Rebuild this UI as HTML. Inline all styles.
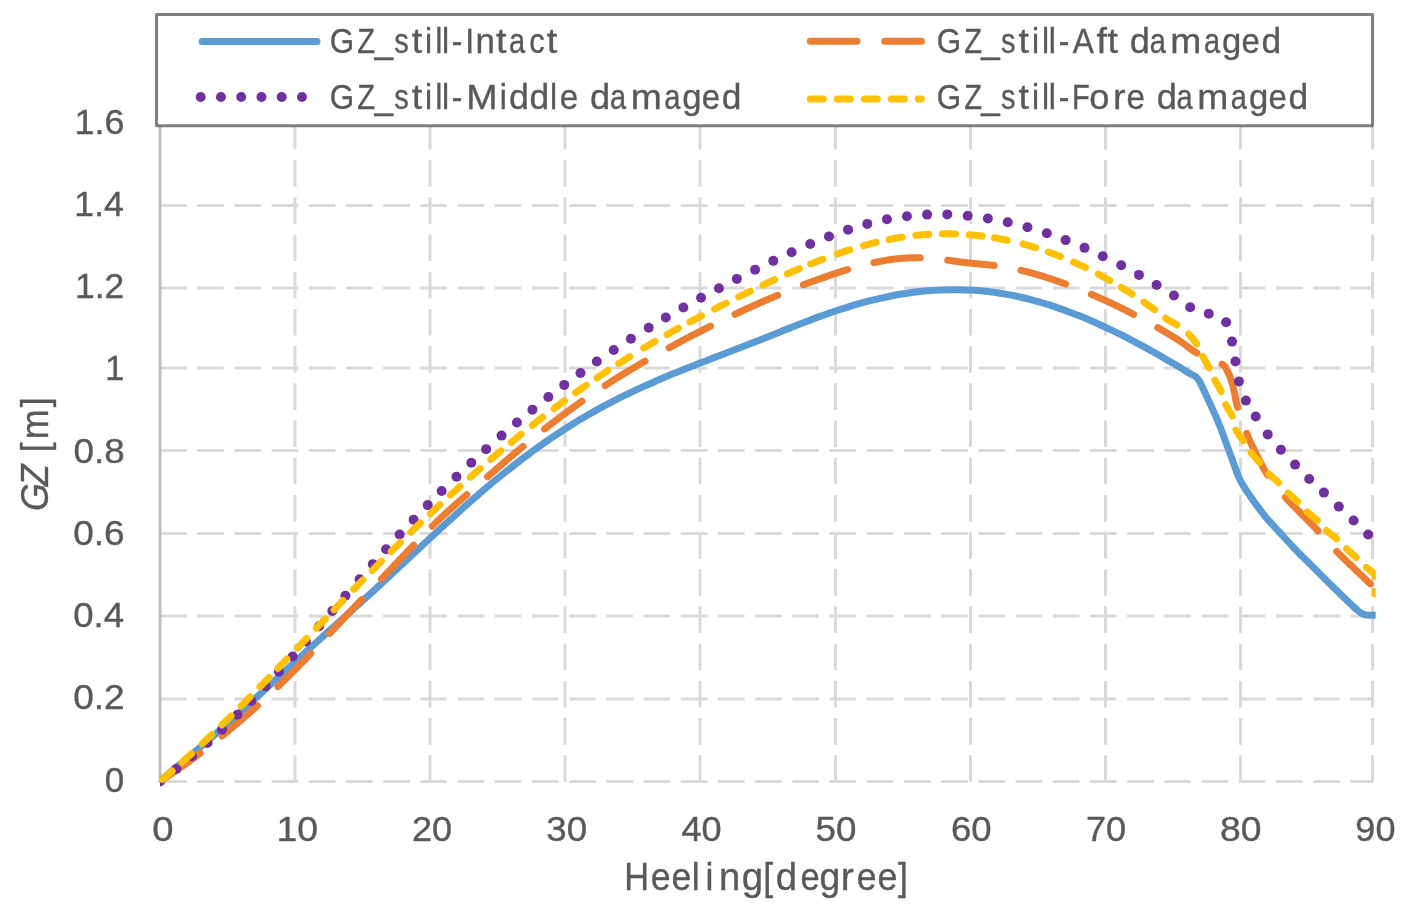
<!DOCTYPE html>
<html><head><meta charset="utf-8"><style>
html,body{margin:0;padding:0;background:#fff;width:1410px;height:916px;overflow:hidden}
svg{display:block;filter:blur(0.4px)}
text{font-family:"Liberation Sans",sans-serif;fill:#595959;stroke:#595959;stroke-width:0.35px}
</style></head><body>
<svg width="1410" height="916" viewBox="0 0 1410 916">
<defs><clipPath id="pc"><rect x="160" y="0" width="1215.7" height="800"/></clipPath></defs>
<rect width="1410" height="916" fill="#fff"/>
<g stroke="#d9d9d9" stroke-width="3" stroke-dasharray="26.6 10.6" fill="none">
<line x1="160" y1="781.4" x2="1372.5" y2="781.4" />
<line x1="160" y1="699.05" x2="1372.5" y2="699.05" />
<line x1="160" y1="616.05" x2="1372.5" y2="616.05" />
<line x1="160" y1="533.4" x2="1372.5" y2="533.4" />
<line x1="160" y1="450.4" x2="1372.5" y2="450.4" />
<line x1="160" y1="368.0" x2="1372.5" y2="368.0" />
<line x1="160" y1="288.0" x2="1372.5" y2="288.0" />
<line x1="160" y1="205.4" x2="1372.5" y2="205.4" />
<line x1="160" y1="123.2" x2="1372.5" y2="123.2" />
</g>
<g stroke="#d9d9d9" stroke-width="3" stroke-dasharray="26.6 10.6" fill="none">
<line x1="295" y1="122.9" x2="295" y2="782.9" />
<line x1="430" y1="122.9" x2="430" y2="782.9" />
<line x1="565" y1="122.9" x2="565" y2="782.9" />
<line x1="700" y1="122.9" x2="700" y2="782.9" />
<line x1="835.5" y1="122.9" x2="835.5" y2="782.9" />
<line x1="970.5" y1="122.9" x2="970.5" y2="782.9" />
<line x1="1105.5" y1="122.9" x2="1105.5" y2="782.9" />
<line x1="1240.5" y1="122.9" x2="1240.5" y2="782.9" />
<line x1="1372.5" y1="122.9" x2="1372.5" y2="782.9" />
</g>
<line x1="160" y1="122.9" x2="160" y2="782.9" stroke="#bfbfbf" stroke-width="3"/>
<g clip-path="url(#pc)" fill="none" stroke-linejoin="round">
<path d="M160.00,780.90 C161.67,779.50 166.67,775.30 170.00,772.50 C173.33,769.70 176.67,766.88 180.00,764.10 C183.33,761.32 186.67,758.60 190.00,755.80 C193.33,753.00 196.67,750.13 200.00,747.30 C203.33,744.47 206.67,741.65 210.00,738.80 C213.33,735.95 216.67,733.10 220.00,730.20 C223.33,727.30 226.67,724.37 230.00,721.40 C233.33,718.43 236.67,715.42 240.00,712.40 C243.33,709.38 246.67,706.33 250.00,703.30 C253.33,700.27 256.67,697.25 260.00,694.20 C263.33,691.15 266.67,688.07 270.00,685.00 C273.33,681.93 276.67,678.88 280.00,675.80 C283.33,672.72 286.67,669.58 290.00,666.50 C293.33,663.42 296.67,660.35 300.00,657.30 C303.33,654.25 306.67,651.23 310.00,648.20 C313.33,645.17 316.67,642.12 320.00,639.10 C323.33,636.08 326.67,633.10 330.00,630.10 C333.33,627.10 336.67,624.10 340.00,621.10 C343.33,618.10 346.67,615.10 350.00,612.10 C353.33,609.10 356.67,606.12 360.00,603.10 C363.33,600.08 366.67,597.03 370.00,594.00 C373.33,590.97 376.67,587.97 380.00,584.90 C383.33,581.83 386.67,578.70 390.00,575.60 C393.33,572.50 396.67,569.40 400.00,566.30 C403.33,563.20 406.67,560.12 410.00,557.00 C413.33,553.88 416.67,550.72 420.00,547.60 C423.33,544.48 426.67,541.40 430.00,538.30 C433.33,535.20 436.67,532.08 440.00,529.00 C443.33,525.92 446.67,522.83 450.00,519.80 C453.33,516.77 456.67,513.78 460.00,510.80 C463.33,507.82 466.67,504.85 470.00,501.90 C473.33,498.95 476.67,495.98 480.00,493.10 C483.33,490.22 486.67,487.38 490.00,484.60 C493.33,481.82 496.67,479.10 500.00,476.40 C503.33,473.70 506.67,471.03 510.00,468.40 C513.33,465.77 516.67,463.15 520.00,460.60 C523.33,458.05 526.67,455.55 530.00,453.10 C533.33,450.65 536.67,448.27 540.00,445.90 C543.33,443.53 546.67,441.18 550.00,438.90 C553.33,436.62 556.67,434.38 560.00,432.20 C563.33,430.02 566.67,427.90 570.00,425.80 C573.33,423.70 576.67,421.62 580.00,419.60 C583.33,417.58 586.67,415.62 590.00,413.70 C593.33,411.78 596.67,409.92 600.00,408.10 C603.33,406.28 606.67,404.53 610.00,402.80 C613.33,401.07 616.67,399.37 620.00,397.70 C623.33,396.03 626.67,394.40 630.00,392.80 C633.33,391.20 636.67,389.62 640.00,388.10 C643.33,386.58 646.67,385.17 650.00,383.70 C653.33,382.23 656.67,380.73 660.00,379.30 C663.33,377.87 666.67,376.47 670.00,375.10 C673.33,373.73 676.67,372.43 680.00,371.10 C683.33,369.77 686.67,368.43 690.00,367.10 C693.33,365.77 696.67,364.40 700.00,363.10 C703.33,361.80 706.67,360.58 710.00,359.30 C713.33,358.02 716.67,356.68 720.00,355.40 C723.33,354.12 726.67,352.88 730.00,351.60 C733.33,350.32 736.67,349.00 740.00,347.70 C743.33,346.40 746.67,345.10 750.00,343.80 C753.33,342.50 756.67,341.22 760.00,339.90 C763.33,338.58 766.67,337.23 770.00,335.90 C773.33,334.57 776.67,333.23 780.00,331.90 C783.33,330.57 786.67,329.22 790.00,327.90 C793.33,326.58 796.67,325.28 800.00,324.00 C803.33,322.72 806.67,321.47 810.00,320.20 C813.33,318.93 816.67,317.62 820.00,316.40 C823.33,315.18 826.67,314.05 830.00,312.90 C833.33,311.75 836.67,310.60 840.00,309.50 C843.33,308.40 846.67,307.32 850.00,306.30 C853.33,305.28 856.67,304.33 860.00,303.40 C863.33,302.47 866.67,301.55 870.00,300.70 C873.33,299.85 876.67,299.05 880.00,298.30 C883.33,297.55 886.67,296.87 890.00,296.20 C893.33,295.53 896.67,294.87 900.00,294.30 C903.33,293.73 906.67,293.27 910.00,292.80 C913.33,292.33 916.67,291.87 920.00,291.50 C923.33,291.13 926.67,290.85 930.00,290.60 C933.33,290.35 936.67,290.15 940.00,290.00 C943.33,289.85 946.67,289.75 950.00,289.70 C953.33,289.65 956.67,289.63 960.00,289.70 C963.33,289.77 966.67,289.92 970.00,290.10 C973.33,290.28 976.67,290.52 980.00,290.80 C983.33,291.08 986.67,291.40 990.00,291.80 C993.33,292.20 996.67,292.68 1000.00,293.20 C1003.33,293.72 1006.67,294.27 1010.00,294.90 C1013.33,295.53 1016.67,296.25 1020.00,297.00 C1023.33,297.75 1026.67,298.53 1030.00,299.40 C1033.33,300.27 1036.67,301.23 1040.00,302.20 C1043.33,303.17 1046.67,304.13 1050.00,305.20 C1053.33,306.27 1056.67,307.43 1060.00,308.60 C1063.33,309.77 1066.67,310.95 1070.00,312.20 C1073.33,313.45 1076.67,314.75 1080.00,316.10 C1083.33,317.45 1086.67,318.87 1090.00,320.30 C1093.33,321.73 1096.67,323.18 1100.00,324.70 C1103.33,326.22 1106.67,327.82 1110.00,329.40 C1113.33,330.98 1116.67,332.55 1120.00,334.20 C1123.33,335.85 1126.67,337.57 1130.00,339.30 C1133.33,341.03 1136.67,342.80 1140.00,344.60 C1143.33,346.40 1146.67,348.25 1150.00,350.10 C1153.33,351.95 1156.67,353.78 1160.00,355.70 C1163.33,357.62 1166.67,359.63 1170.00,361.60 C1173.33,363.57 1176.73,365.53 1180.00,367.50 C1183.27,369.47 1187.02,371.90 1189.60,373.40 C1192.18,374.90 1193.85,375.17 1195.50,376.50 C1197.15,377.83 1198.18,379.27 1199.50,381.40 C1200.82,383.53 1201.77,385.85 1203.40,389.30 C1205.03,392.75 1207.33,397.82 1209.30,402.10 C1211.27,406.38 1213.42,410.93 1215.20,415.00 C1216.98,419.07 1218.45,422.58 1220.00,426.50 C1221.55,430.42 1222.42,432.87 1224.50,438.50 C1226.58,444.13 1230.28,454.22 1232.50,460.30 C1234.72,466.38 1236.47,471.62 1237.80,475.00 C1239.13,478.38 1239.50,478.67 1240.50,480.60 C1241.50,482.53 1242.47,484.40 1243.80,486.60 C1245.13,488.80 1246.72,491.18 1248.50,493.80 C1250.28,496.42 1251.75,498.57 1254.50,502.30 C1257.25,506.03 1261.42,511.83 1265.00,516.20 C1268.58,520.57 1272.33,524.45 1276.00,528.50 C1279.67,532.55 1283.83,537.08 1287.00,540.50 C1290.17,543.92 1292.83,546.72 1295.00,549.00 C1297.17,551.28 1297.50,551.68 1300.00,554.20 C1302.50,556.72 1306.67,560.80 1310.00,564.10 C1313.33,567.40 1316.67,570.70 1320.00,574.00 C1323.33,577.30 1326.67,580.62 1330.00,583.90 C1333.33,587.18 1337.00,590.78 1340.00,593.70 C1343.00,596.62 1345.83,599.32 1348.00,601.40 C1350.17,603.48 1351.50,604.78 1353.00,606.20 C1354.50,607.62 1355.67,608.78 1357.00,609.90 C1358.33,611.02 1359.67,612.12 1361.00,612.90 C1362.33,613.68 1363.67,614.22 1365.00,614.60 C1366.33,614.98 1366.50,615.10 1369.00,615.20 C1371.50,615.30 1378.17,615.20 1380.00,615.20" stroke="#5b9bd5" stroke-width="7" stroke-linecap="round"/>
<path d="M162.10,780.00 L162.26,779.89 L162.51,779.73 L162.76,779.56 L163.02,779.39 L163.28,779.21 L163.55,779.03 L163.82,778.85 L164.10,778.67 L164.38,778.48 L164.66,778.29 L164.94,778.10 L165.23,777.91 L165.52,777.72 L165.81,777.52 L166.10,777.33 L166.39,777.13 L166.69,776.94 L166.98,776.74 L167.27,776.55 L167.55,776.35 L167.84,776.16 L168.12,775.97 L168.40,775.78 L168.68,775.59 L168.96,775.41 L169.22,775.23 L169.49,775.05 L169.75,774.87 L170.00,774.70 L170.25,774.53 L170.50,774.36 L170.75,774.19 L171.00,774.02 L171.25,773.85 L171.50,773.68 L171.75,773.51 L172.00,773.34 L172.25,773.16 L172.50,772.99 L172.75,772.82 L173.00,772.65 L173.25,772.48 L173.50,772.31 L173.75,772.14 L174.00,771.96 L174.25,771.79 L174.50,771.62 L174.75,771.45 L175.00,771.27 L175.25,771.10 L175.50,770.93 L175.75,770.76 L176.00,770.58 L176.25,770.41 L176.50,770.24 L176.75,770.06 L177.00,769.89 L177.25,769.72 L177.50,769.54 L177.75,769.37 L178.00,769.20 L178.25,769.02 L178.50,768.85 L178.75,768.67 L179.00,768.50 L179.25,768.32 L179.50,768.15 L179.75,767.97 L180.00,767.80 L180.25,767.62 L180.50,767.45 L180.75,767.27 L181.00,767.10 L181.25,766.92 L181.50,766.75 L181.75,766.57 L182.00,766.40 L182.25,766.22 L182.50,766.05 L182.75,765.87 L183.00,765.70 L183.25,765.52 L183.50,765.35 L183.75,765.17 L184.00,764.99 L184.25,764.82 L184.50,764.64 L184.75,764.46 L185.00,764.29 L185.25,764.11 L185.50,763.93 L185.75,763.76 L186.00,763.58 L186.25,763.40 L186.50,763.22 L186.75,763.04 L187.00,762.87 L187.25,762.69 L187.50,762.51 L187.75,762.33 L188.00,762.15 L188.25,761.97 L188.50,761.79 L188.75,761.61 L189.00,761.43 L189.25,761.25 L189.50,761.06 L189.75,760.88 L190.00,760.70 L190.25,760.52 L190.50,760.33 L190.75,760.15 L191.00,759.97 L191.25,759.78 L191.50,759.60 L191.75,759.41 L192.00,759.23 L192.25,759.04 L192.50,758.86 L192.75,758.67 L193.00,758.48 L193.25,758.30 L193.50,758.11 L193.75,757.92 L194.00,757.73 L194.25,757.55 L194.50,757.36 L194.75,757.17 L195.00,756.98 L195.25,756.79 L195.50,756.60 L195.75,756.42 L196.00,756.23 L196.25,756.04 L196.50,755.85 L196.75,755.66 L197.00,755.47 L197.25,755.28 L197.50,755.09 L197.75,754.90 L198.00,754.71 L198.25,754.52 L198.50,754.33 L198.75,754.15 L199.00,753.96 L199.25,753.77 L199.50,753.58 L199.75,753.39 L200.00,753.20 L200.21,753.04 M221.92,736.04 L222.00,735.98 L222.25,735.77 L222.50,735.57 L222.75,735.36 L223.00,735.16 L223.25,734.96 L223.50,734.75 L223.75,734.55 L224.00,734.34 L224.25,734.14 L224.50,733.93 L224.75,733.73 L225.00,733.52 L225.25,733.32 L225.50,733.11 L225.75,732.91 L226.00,732.70 L226.25,732.50 L226.50,732.29 L226.75,732.09 L227.00,731.88 L227.25,731.67 L227.50,731.47 L227.75,731.26 L228.00,731.06 L228.25,730.85 L228.50,730.64 L228.75,730.44 L229.00,730.23 L229.25,730.02 L229.50,729.81 L229.75,729.61 L230.00,729.40 L230.25,729.19 L230.50,728.98 L230.75,728.78 L231.00,728.57 L231.25,728.36 L231.50,728.15 L231.75,727.95 L232.00,727.74 L232.25,727.53 L232.50,727.32 L232.75,727.11 L233.00,726.90 L233.25,726.70 L233.50,726.49 L233.75,726.28 L234.00,726.07 L234.25,725.86 L234.50,725.65 L234.75,725.44 L235.00,725.23 L235.25,725.02 L235.50,724.81 L235.75,724.60 L236.00,724.39 L236.25,724.18 L236.50,723.97 L236.75,723.76 L237.00,723.55 L237.25,723.34 L237.50,723.13 L237.75,722.91 L238.00,722.70 L238.25,722.49 L238.50,722.28 L238.75,722.07 L239.00,721.85 L239.25,721.64 L239.50,721.43 L239.75,721.21 L240.00,721.00 L240.25,720.79 L240.50,720.57 L240.75,720.36 L241.00,720.14 L241.25,719.93 L241.50,719.71 L241.75,719.50 L242.00,719.28 L242.25,719.07 L242.50,718.85 L242.75,718.64 L243.00,718.42 L243.25,718.21 L243.50,717.99 L243.75,717.77 L244.00,717.56 L244.25,717.34 L244.50,717.12 L244.75,716.90 L245.00,716.69 L245.25,716.47 L245.50,716.25 L245.75,716.03 L246.00,715.82 L246.25,715.60 L246.50,715.38 L246.75,715.16 L247.00,714.94 L247.25,714.72 L247.50,714.50 L247.75,714.28 L248.00,714.06 L248.25,713.84 L248.50,713.62 L248.75,713.40 L249.00,713.18 L249.25,712.96 L249.50,712.74 L249.75,712.52 L250.00,712.30 L250.25,712.08 L250.50,711.86 L250.75,711.64 L251.00,711.41 L251.25,711.19 L251.50,710.97 L251.75,710.75 L252.00,710.52 L252.25,710.30 L252.50,710.08 L252.75,709.85 L253.00,709.63 L253.25,709.41 L253.50,709.18 L253.75,708.96 L254.00,708.74 L254.25,708.51 L254.50,708.29 L254.75,708.06 L255.00,707.84 L255.25,707.61 L255.50,707.39 L255.75,707.16 L256.00,706.94 L256.25,706.71 L256.50,706.48 L256.75,706.26 L257.00,706.03 L257.25,705.80 L257.39,705.68 M277.85,686.57 L278.00,686.42 L278.25,686.18 L278.50,685.94 L278.75,685.70 L279.00,685.46 L279.25,685.22 L279.50,684.98 L279.75,684.74 L280.00,684.50 L280.25,684.26 L280.50,684.02 L280.75,683.78 L281.00,683.53 L281.25,683.29 L281.50,683.05 L281.75,682.81 L282.00,682.56 L282.25,682.32 L282.50,682.08 L282.75,681.83 L283.00,681.59 L283.25,681.34 L283.50,681.10 L283.75,680.86 L284.00,680.61 L284.25,680.37 L284.50,680.12 L284.75,679.88 L285.00,679.63 L285.25,679.39 L285.50,679.14 L285.75,678.89 L286.00,678.65 L286.25,678.40 L286.50,678.16 L286.75,677.91 L287.00,677.66 L287.25,677.42 L287.50,677.17 L287.75,676.92 L288.00,676.68 L288.25,676.43 L288.50,676.18 L288.75,675.94 L289.00,675.69 L289.25,675.44 L289.50,675.19 L289.75,674.95 L290.00,674.70 L290.25,674.45 L290.50,674.20 L290.75,673.96 L291.00,673.71 L291.25,673.46 L291.50,673.21 L291.75,672.97 L292.00,672.72 L292.25,672.47 L292.50,672.22 L292.75,671.98 L293.00,671.73 L293.25,671.48 L293.50,671.23 L293.75,670.98 L294.00,670.73 L294.25,670.48 L294.50,670.24 L294.75,669.99 L295.00,669.74 L295.25,669.49 L295.50,669.24 L295.75,668.99 L296.00,668.74 L296.25,668.49 L296.50,668.24 L296.75,667.99 L297.00,667.74 L297.25,667.48 L297.50,667.23 L297.75,666.98 L298.00,666.73 L298.25,666.48 L298.50,666.22 L298.75,665.97 L299.00,665.72 L299.25,665.46 L299.50,665.21 L299.75,664.95 L300.00,664.70 L300.25,664.44 L300.50,664.19 L300.75,663.93 L301.00,663.68 L301.25,663.42 L301.50,663.16 L301.75,662.91 L302.00,662.65 L302.25,662.39 L302.50,662.13 L302.75,661.87 L303.00,661.61 L303.25,661.35 L303.50,661.09 L303.75,660.83 L304.00,660.57 L304.25,660.31 L304.50,660.05 L304.75,659.79 L305.00,659.53 L305.25,659.27 L305.50,659.01 L305.75,658.75 L306.00,658.49 L306.25,658.22 L306.50,657.96 L306.75,657.70 L307.00,657.44 L307.25,657.18 L307.50,656.92 L307.75,656.65 L308.00,656.39 L308.25,656.13 L308.50,655.87 L308.75,655.61 L309.00,655.35 L309.25,655.08 L309.50,654.82 L309.75,654.56 L310.00,654.30 L310.25,654.04 L310.50,653.78 L310.75,653.52 L310.79,653.47 M329.49,633.65 L329.50,633.64 L329.75,633.37 L330.00,633.10 L330.25,632.83 L330.50,632.56 L330.75,632.30 L331.00,632.03 L331.25,631.76 L331.50,631.49 L331.75,631.23 L332.00,630.96 L332.25,630.69 L332.50,630.42 L332.75,630.15 L333.00,629.89 L333.25,629.62 L333.50,629.35 L333.75,629.08 L334.00,628.82 L334.25,628.55 L334.50,628.28 L334.75,628.01 L335.00,627.74 L335.25,627.48 L335.50,627.21 L335.75,626.94 L336.00,626.67 L336.25,626.41 L336.50,626.14 L336.75,625.87 L337.00,625.60 L337.25,625.34 L337.50,625.07 L337.75,624.80 L338.00,624.53 L338.25,624.27 L338.50,624.00 L338.75,623.73 L339.00,623.47 L339.25,623.20 L339.50,622.93 L339.75,622.67 L340.00,622.40 L340.25,622.13 L340.50,621.87 L340.75,621.60 L341.00,621.34 L341.25,621.07 L341.50,620.80 L341.75,620.54 L342.00,620.27 L342.25,620.01 L342.50,619.74 L342.75,619.48 L343.00,619.21 L343.25,618.95 L343.50,618.68 L343.75,618.42 L344.00,618.15 L344.25,617.89 L344.50,617.62 L344.75,617.36 L345.00,617.09 L345.25,616.83 L345.50,616.56 L345.75,616.30 L346.00,616.04 L346.25,615.77 L346.50,615.51 L346.75,615.24 L347.00,614.98 L347.25,614.71 L347.50,614.45 L347.75,614.18 L348.00,613.92 L348.25,613.65 L348.50,613.39 L348.75,613.12 L349.00,612.86 L349.25,612.59 L349.50,612.33 L349.75,612.06 L350.00,611.80 L350.25,611.53 L350.50,611.27 L350.75,611.00 L351.00,610.74 L351.25,610.47 L351.50,610.21 L351.75,609.94 L352.00,609.68 L352.25,609.41 L352.50,609.14 L352.75,608.88 L353.00,608.61 L353.25,608.34 L353.50,608.08 L353.75,607.81 L354.00,607.55 L354.25,607.28 L354.50,607.01 L354.75,606.75 L355.00,606.48 L355.25,606.22 L355.50,605.95 L355.75,605.68 L356.00,605.42 L356.25,605.15 L356.50,604.89 L356.75,604.62 L357.00,604.36 L357.25,604.09 L357.50,603.83 L357.75,603.56 L358.00,603.30 L358.25,603.04 L358.50,602.77 L358.75,602.51 L359.00,602.25 L359.25,601.99 L359.50,601.72 L359.75,601.46 L360.00,601.20 L360.25,600.94 L360.50,600.68 L360.75,600.42 L361.00,600.16 L361.25,599.90 L361.50,599.64 M381.40,579.04 L381.50,578.93 L381.75,578.67 L382.00,578.41 L382.25,578.15 L382.50,577.88 L382.75,577.62 L383.00,577.36 L383.25,577.10 L383.50,576.84 L383.75,576.57 L384.00,576.31 L384.25,576.05 L384.50,575.79 L384.75,575.52 L385.00,575.26 L385.25,575.00 L385.50,574.74 L385.75,574.47 L386.00,574.21 L386.25,573.95 L386.50,573.69 L386.75,573.42 L387.00,573.16 L387.25,572.90 L387.50,572.63 L387.75,572.37 L388.00,572.11 L388.25,571.84 L388.50,571.58 L388.75,571.32 L389.00,571.05 L389.25,570.79 L389.50,570.53 L389.75,570.26 L390.00,570.00 L390.25,569.74 L390.50,569.47 L390.75,569.21 L391.00,568.94 L391.25,568.68 L391.50,568.41 L391.75,568.15 L392.00,567.88 L392.25,567.62 L392.50,567.35 L392.75,567.09 L393.00,566.82 L393.25,566.56 L393.50,566.29 L393.75,566.03 L394.00,565.76 L394.25,565.50 L394.50,565.23 L394.75,564.97 L395.00,564.70 L395.25,564.43 L395.50,564.17 L395.75,563.90 L396.00,563.64 L396.25,563.37 L396.50,563.11 L396.75,562.84 L397.00,562.58 L397.25,562.31 L397.50,562.05 L397.75,561.78 L398.00,561.52 L398.25,561.25 L398.50,560.99 L398.75,560.72 L399.00,560.46 L399.25,560.19 L399.50,559.93 L399.75,559.66 L400.00,559.40 L400.25,559.14 L400.50,558.87 L400.75,558.61 L401.00,558.35 L401.25,558.08 L401.50,557.82 L401.75,557.56 L402.00,557.29 L402.25,557.03 L402.50,556.77 L402.75,556.50 L403.00,556.24 L403.25,555.98 L403.50,555.71 L403.75,555.45 L404.00,555.19 L404.25,554.93 L404.50,554.66 L404.75,554.40 L405.00,554.14 L405.25,553.88 L405.50,553.61 L405.75,553.35 L406.00,553.09 L406.25,552.83 L406.50,552.56 L406.75,552.30 L407.00,552.04 L407.25,551.78 L407.50,551.52 L407.75,551.25 L408.00,550.99 L408.25,550.73 L408.50,550.47 L408.75,550.21 L409.00,549.95 L409.25,549.68 L409.50,549.42 L409.75,549.16 L410.00,548.90 L410.25,548.64 L410.50,548.38 L410.75,548.12 L411.00,547.85 L411.25,547.59 L411.50,547.33 L411.75,547.07 L412.00,546.81 L412.25,546.55 L412.50,546.29 L412.75,546.02 L413.00,545.76 L413.25,545.50 L413.50,545.24 L413.56,545.18 M432.24,526.19 L432.25,526.18 L432.50,525.94 L432.75,525.69 L433.00,525.44 L433.25,525.20 L433.50,524.96 L433.75,524.71 L434.00,524.47 L434.25,524.22 L434.50,523.98 L434.75,523.74 L435.00,523.49 L435.25,523.25 L435.50,523.01 L435.75,522.77 L436.00,522.52 L436.25,522.28 L436.50,522.04 L436.75,521.80 L437.00,521.56 L437.25,521.32 L437.50,521.08 L437.75,520.84 L438.00,520.60 L438.25,520.36 L438.50,520.12 L438.75,519.89 L439.00,519.65 L439.25,519.41 L439.50,519.17 L439.75,518.94 L440.00,518.70 L440.25,518.46 L440.50,518.23 L440.75,517.99 L441.00,517.76 L441.25,517.52 L441.50,517.29 L441.75,517.06 L442.00,516.82 L442.25,516.59 L442.50,516.36 L442.75,516.13 L443.00,515.89 L443.25,515.66 L443.50,515.43 L443.75,515.20 L444.00,514.97 L444.25,514.74 L444.50,514.51 L444.75,514.28 L445.00,514.05 L445.25,513.82 L445.50,513.59 L445.75,513.36 L446.00,513.13 L446.25,512.91 L446.50,512.68 L446.75,512.45 L447.00,512.22 L447.25,511.99 L447.50,511.77 L447.75,511.54 L448.00,511.31 L448.25,511.09 L448.50,510.86 L448.75,510.63 L449.00,510.41 L449.25,510.18 L449.50,509.95 L449.75,509.73 L450.00,509.50 L450.25,509.27 L450.50,509.05 L450.75,508.82 L451.00,508.60 L451.25,508.37 L451.50,508.15 L451.75,507.92 L452.00,507.70 L452.25,507.47 L452.50,507.25 L452.75,507.02 L453.00,506.80 L453.25,506.57 L453.50,506.35 L453.75,506.13 L454.00,505.90 L454.25,505.68 L454.50,505.46 L454.75,505.24 L455.00,505.01 L455.25,504.79 L455.50,504.57 L455.75,504.35 L456.00,504.12 L456.25,503.90 L456.50,503.68 L456.75,503.46 L457.00,503.24 L457.25,503.02 L457.50,502.80 L457.75,502.58 L458.00,502.36 L458.25,502.14 L458.50,501.92 L458.75,501.70 L459.00,501.48 L459.25,501.26 L459.50,501.04 L459.75,500.82 L460.00,500.60 L460.25,500.38 L460.50,500.16 L460.75,499.95 L461.00,499.73 L461.25,499.51 L461.50,499.29 L461.75,499.08 L462.00,498.86 L462.25,498.65 L462.50,498.43 L462.75,498.22 L463.00,498.00 L463.25,497.79 L463.50,497.57 L463.75,497.36 L464.00,497.14 L464.25,496.93 L464.50,496.72 L464.75,496.50 L465.00,496.29 L465.25,496.07 L465.50,495.86 L465.75,495.65 L466.00,495.43 L466.25,495.22 L466.50,495.01 L466.75,494.79 L466.77,494.77 M487.56,476.72 L487.75,476.56 L488.00,476.34 L488.25,476.12 L488.50,475.90 L488.75,475.69 L489.00,475.47 L489.25,475.25 L489.50,475.04 L489.75,474.82 L490.00,474.60 L490.25,474.38 L490.50,474.16 L490.75,473.95 L491.00,473.73 L491.25,473.51 L491.50,473.29 L491.75,473.08 L492.00,472.86 L492.25,472.64 L492.50,472.42 L492.75,472.20 L493.00,471.99 L493.25,471.77 L493.50,471.55 L493.75,471.33 L494.00,471.12 L494.25,470.90 L494.50,470.68 L494.75,470.46 L495.00,470.24 L495.25,470.03 L495.50,469.81 L495.75,469.59 L496.00,469.37 L496.25,469.16 L496.50,468.94 L496.75,468.72 L497.00,468.50 L497.25,468.29 L497.50,468.07 L497.75,467.85 L498.00,467.63 L498.25,467.42 L498.50,467.20 L498.75,466.98 L499.00,466.77 L499.25,466.55 L499.50,466.33 L499.75,466.12 L500.00,465.90 L500.25,465.68 L500.50,465.47 L500.75,465.25 L501.00,465.04 L501.25,464.82 L501.50,464.60 L501.75,464.39 L502.00,464.17 L502.25,463.95 L502.50,463.74 L502.75,463.52 L503.00,463.31 L503.25,463.09 L503.50,462.87 L503.75,462.66 L504.00,462.44 L504.25,462.23 L504.50,462.01 L504.75,461.80 L505.00,461.58 L505.25,461.37 L505.50,461.15 L505.75,460.94 L506.00,460.72 L506.25,460.51 L506.50,460.29 L506.75,460.08 L507.00,459.86 L507.25,459.65 L507.50,459.43 L507.75,459.22 L508.00,459.01 L508.25,458.79 L508.50,458.58 L508.75,458.36 L509.00,458.15 L509.25,457.94 L509.50,457.73 L509.75,457.51 L510.00,457.30 L510.25,457.09 L510.50,456.88 L510.75,456.66 L511.00,456.45 L511.25,456.24 L511.50,456.03 L511.75,455.82 L512.00,455.61 L512.25,455.39 L512.50,455.18 L512.75,454.97 L513.00,454.76 L513.25,454.55 L513.50,454.34 L513.75,454.13 L514.00,453.92 L514.25,453.71 L514.50,453.50 L514.75,453.29 L515.00,453.08 L515.25,452.87 L515.50,452.66 L515.75,452.45 L516.00,452.24 L516.25,452.03 L516.50,451.82 L516.75,451.62 L517.00,451.41 L517.25,451.20 L517.50,450.99 L517.75,450.78 L518.00,450.57 L518.25,450.36 L518.50,450.15 L518.75,449.94 L519.00,449.74 L519.25,449.53 L519.50,449.32 L519.75,449.11 L520.00,448.90 L520.25,448.69 L520.50,448.48 L520.75,448.27 L521.00,448.06 L521.25,447.86 L521.50,447.65 L521.75,447.44 L522.00,447.23 L522.25,447.02 L522.50,446.81 L522.75,446.60 L523.00,446.39 L523.04,446.36 M544.49,429.07 L544.50,429.07 L544.75,428.87 L545.00,428.68 L545.25,428.48 L545.50,428.29 L545.75,428.09 L546.00,427.90 L546.25,427.70 L546.50,427.51 L546.75,427.31 L547.00,427.12 L547.25,426.93 L547.50,426.73 L547.75,426.54 L548.00,426.34 L548.25,426.15 L548.50,425.96 L548.75,425.76 L549.00,425.57 L549.25,425.38 L549.50,425.19 L549.75,424.99 L550.00,424.80 L550.25,424.61 L550.50,424.42 L550.75,424.22 L551.00,424.03 L551.25,423.84 L551.50,423.65 L551.75,423.46 L552.00,423.26 L552.25,423.07 L552.50,422.88 L552.75,422.69 L553.00,422.50 L553.25,422.31 L553.50,422.12 L553.75,421.93 L554.00,421.74 L554.25,421.55 L554.50,421.36 L554.75,421.17 L555.00,420.97 L555.25,420.79 L555.50,420.60 L555.75,420.41 L556.00,420.22 L556.25,420.03 L556.50,419.84 L556.75,419.65 L557.00,419.46 L557.25,419.27 L557.50,419.08 L557.75,418.89 L558.00,418.70 L558.25,418.52 L558.50,418.33 L558.75,418.14 L559.00,417.95 L559.25,417.76 L559.50,417.58 L559.75,417.39 L560.00,417.20 L560.25,417.01 L560.50,416.83 L560.75,416.64 L561.00,416.45 L561.25,416.26 L561.50,416.08 L561.75,415.89 L562.00,415.70 L562.25,415.52 L562.50,415.33 L562.75,415.15 L563.00,414.96 L563.25,414.77 L563.50,414.59 L563.75,414.40 L564.00,414.22 L564.25,414.03 L564.50,413.85 L564.75,413.66 L565.00,413.48 L565.25,413.29 L565.50,413.11 L565.75,412.92 L566.00,412.74 L566.25,412.55 L566.50,412.37 L566.75,412.18 L567.00,412.00 L567.25,411.82 L567.50,411.63 L567.75,411.45 L568.00,411.26 L568.25,411.08 L568.50,410.90 L568.75,410.71 L569.00,410.53 L569.25,410.35 L569.50,410.17 L569.75,409.98 L570.00,409.80 L570.25,409.62 L570.50,409.44 L570.75,409.25 L571.00,409.07 L571.25,408.89 L571.50,408.71 L571.75,408.53 L572.00,408.34 L572.25,408.16 L572.50,407.98 L572.75,407.80 L573.00,407.62 L573.25,407.44 L573.50,407.26 L573.75,407.08 L574.00,406.90 L574.25,406.72 L574.50,406.54 L574.75,406.36 L575.00,406.18 L575.25,406.00 L575.50,405.82 L575.75,405.64 L576.00,405.46 L576.25,405.28 L576.50,405.10 L576.75,404.92 L577.00,404.74 L577.25,404.56 L577.50,404.38 L577.75,404.20 L578.00,404.02 L578.25,403.85 L578.50,403.67 L578.75,403.49 L579.00,403.31 L579.25,403.13 L579.50,402.96 L579.75,402.78 L580.00,402.60 L580.25,402.42 L580.50,402.25 L580.75,402.07 L581.00,401.89 L581.25,401.71 L581.50,401.54 L581.75,401.36 L581.96,401.21 M605.15,385.52 L605.25,385.46 L605.50,385.30 L605.75,385.14 L606.00,384.98 L606.25,384.81 L606.50,384.65 L606.75,384.49 L607.00,384.33 L607.25,384.17 L607.50,384.01 L607.75,383.85 L608.00,383.68 L608.25,383.52 L608.50,383.36 L608.75,383.20 L609.00,383.04 L609.25,382.88 L609.50,382.72 L609.75,382.56 L610.00,382.40 L610.25,382.24 L610.50,382.08 L610.75,381.92 L611.00,381.76 L611.25,381.60 L611.50,381.44 L611.75,381.28 L612.00,381.12 L612.25,380.97 L612.50,380.81 L612.75,380.65 L613.00,380.49 L613.25,380.33 L613.50,380.17 L613.75,380.01 L614.00,379.86 L614.25,379.70 L614.50,379.54 L614.75,379.38 L615.00,379.22 L615.25,379.07 L615.50,378.91 L615.75,378.75 L616.00,378.60 L616.25,378.44 L616.50,378.28 L616.75,378.13 L617.00,377.97 L617.25,377.81 L617.50,377.66 L617.75,377.50 L618.00,377.34 L618.25,377.19 L618.50,377.03 L618.75,376.88 L619.00,376.72 L619.25,376.57 L619.50,376.41 L619.75,376.26 L620.00,376.10 L620.25,375.95 L620.50,375.79 L620.75,375.64 L621.00,375.48 L621.25,375.33 L621.50,375.17 L621.75,375.02 L622.00,374.86 L622.25,374.71 L622.50,374.56 L622.75,374.40 L623.00,374.25 L623.25,374.10 L623.50,373.94 L623.75,373.79 L624.00,373.64 L624.25,373.48 L624.50,373.33 L624.75,373.18 L625.00,373.03 L625.25,372.87 L625.50,372.72 L625.75,372.57 L626.00,372.42 L626.25,372.26 L626.50,372.11 L626.75,371.96 L627.00,371.81 L627.25,371.66 L627.50,371.51 L627.75,371.36 L628.00,371.20 L628.25,371.05 L628.50,370.90 L628.75,370.75 L629.00,370.60 L629.25,370.45 L629.50,370.30 L629.75,370.15 L630.00,370.00 L630.25,369.85 L630.50,369.70 L630.75,369.55 L631.00,369.40 L631.25,369.25 L631.50,369.10 L631.75,368.95 L632.00,368.81 L632.25,368.66 L632.50,368.51 L632.75,368.36 L633.00,368.21 L633.25,368.06 L633.50,367.92 L633.75,367.77 L634.00,367.62 L634.25,367.47 L634.50,367.33 L634.75,367.18 L635.00,367.03 L635.25,366.88 L635.50,366.74 L635.75,366.59 L636.00,366.44 L636.25,366.30 L636.50,366.15 L636.75,366.00 L637.00,365.86 L637.25,365.71 L637.50,365.56 L637.75,365.42 L638.00,365.27 L638.25,365.12 L638.50,364.98 L638.75,364.83 L639.00,364.69 L639.25,364.54 L639.50,364.39 L639.75,364.25 L640.00,364.10 L640.25,363.95 L640.50,363.81 L640.75,363.66 L641.00,363.51 L641.25,363.37 L641.50,363.22 L641.75,363.08 L642.00,362.93 L642.25,362.78 L642.50,362.64 L642.75,362.49 L643.00,362.34 L643.25,362.20 L643.50,362.05 L643.75,361.90 L644.00,361.76 L644.25,361.61 L644.50,361.47 L644.75,361.32 L645.00,361.18 M669.15,347.77 L669.25,347.71 L669.50,347.57 L669.75,347.44 L670.00,347.30 L670.25,347.16 L670.50,347.03 L670.75,346.89 L671.00,346.76 L671.25,346.62 L671.50,346.48 L671.75,346.35 L672.00,346.21 L672.25,346.08 L672.50,345.94 L672.75,345.81 L673.00,345.67 L673.25,345.53 L673.50,345.40 L673.75,345.26 L674.00,345.13 L674.25,344.99 L674.50,344.86 L674.75,344.72 L675.00,344.59 L675.25,344.45 L675.50,344.32 L675.75,344.18 L676.00,344.05 L676.25,343.91 L676.50,343.78 L676.75,343.64 L677.00,343.51 L677.25,343.38 L677.50,343.24 L677.75,343.11 L678.00,342.97 L678.25,342.84 L678.50,342.70 L678.75,342.57 L679.00,342.44 L679.25,342.30 L679.50,342.17 L679.75,342.03 L680.00,341.90 L680.25,341.77 L680.50,341.63 L680.75,341.50 L681.00,341.37 L681.25,341.23 L681.50,341.10 L681.75,340.96 L682.00,340.83 L682.25,340.70 L682.50,340.56 L682.75,340.43 L683.00,340.30 L683.25,340.16 L683.50,340.03 L683.75,339.90 L684.00,339.76 L684.25,339.63 L684.50,339.50 L684.75,339.36 L685.00,339.23 L685.25,339.10 L685.50,338.97 L685.75,338.83 L686.00,338.70 L686.25,338.57 L686.50,338.44 L686.75,338.30 L687.00,338.17 L687.25,338.04 L687.50,337.91 L687.75,337.78 L688.00,337.65 L688.25,337.51 L688.50,337.38 L688.75,337.25 L689.00,337.12 L689.25,336.99 L689.50,336.86 L689.75,336.73 L690.00,336.60 L690.25,336.47 L690.50,336.34 L690.75,336.21 L691.00,336.08 L691.25,335.95 L691.50,335.82 L691.75,335.70 L692.00,335.57 L692.25,335.44 L692.50,335.31 L692.75,335.18 L693.00,335.06 L693.25,334.93 L693.50,334.80 L693.75,334.67 L694.00,334.55 L694.25,334.42 L694.50,334.29 L694.75,334.16 L695.00,334.04 L695.25,333.91 L695.50,333.78 L695.75,333.66 L696.00,333.53 L696.25,333.40 L696.50,333.28 L696.75,333.15 L697.00,333.02 L697.25,332.90 L697.50,332.77 L697.75,332.64 L698.00,332.52 L698.25,332.39 L698.50,332.26 L698.75,332.14 L699.00,332.01 L699.25,331.88 L699.50,331.75 L699.75,331.63 L700.00,331.50 L700.25,331.37 L700.50,331.24 L700.75,331.12 L701.00,330.99 L701.25,330.86 L701.50,330.73 L701.75,330.60 L702.00,330.48 L702.25,330.35 L702.50,330.22 L702.75,330.09 L703.00,329.96 L703.25,329.84 L703.50,329.71 L703.75,329.58 L704.00,329.45 L704.25,329.32 L704.50,329.19 L704.75,329.07 L705.00,328.94 L705.25,328.81 L705.50,328.68 L705.75,328.55 L706.00,328.43 L706.25,328.30 L706.50,328.17 L706.75,328.04 L707.00,327.92 L707.25,327.79 L707.50,327.66 L707.75,327.53 L708.00,327.41 L708.25,327.28 L708.50,327.15 L708.75,327.03 L709.00,326.90 L709.25,326.78 L709.50,326.65 L709.75,326.53 L710.00,326.40 L710.25,326.28 L710.50,326.15 L710.53,326.13 M734.98,314.24 L735.00,314.23 L735.25,314.11 L735.50,314.00 L735.75,313.88 L736.00,313.76 L736.25,313.65 L736.50,313.53 L736.75,313.41 L737.00,313.30 L737.25,313.18 L737.50,313.06 L737.75,312.95 L738.00,312.83 L738.25,312.71 L738.50,312.60 L738.75,312.48 L739.00,312.37 L739.25,312.25 L739.50,312.13 L739.75,312.02 L740.00,311.90 L740.25,311.78 L740.50,311.67 L740.75,311.55 L741.00,311.44 L741.25,311.32 L741.50,311.20 L741.75,311.09 L742.00,310.97 L742.25,310.86 L742.50,310.74 L742.75,310.63 L743.00,310.51 L743.25,310.39 L743.50,310.28 L743.75,310.16 L744.00,310.05 L744.25,309.93 L744.50,309.82 L744.75,309.70 L745.00,309.59 L745.25,309.47 L745.50,309.36 L745.75,309.24 L746.00,309.13 L746.25,309.01 L746.50,308.90 L746.75,308.78 L747.00,308.67 L747.25,308.56 L747.50,308.44 L747.75,308.33 L748.00,308.21 L748.25,308.10 L748.50,307.98 L748.75,307.87 L749.00,307.76 L749.25,307.64 L749.50,307.53 L749.75,307.41 L750.00,307.30 L750.25,307.19 L750.50,307.07 L750.75,306.96 L751.00,306.85 L751.25,306.73 L751.50,306.62 L751.75,306.50 L752.00,306.39 L752.25,306.28 L752.50,306.16 L752.75,306.05 L753.00,305.94 L753.25,305.82 L753.50,305.71 L753.75,305.60 L754.00,305.48 L754.25,305.37 L754.50,305.26 L754.75,305.14 L755.00,305.03 L755.25,304.92 L755.50,304.81 L755.75,304.69 L756.00,304.58 L756.25,304.47 L756.50,304.36 L756.75,304.24 L757.00,304.13 L757.25,304.02 L757.50,303.91 L757.75,303.80 L758.00,303.69 L758.25,303.57 L758.50,303.46 L758.75,303.35 L759.00,303.24 L759.25,303.13 L759.50,303.02 L759.75,302.91 L760.00,302.80 L760.25,302.69 L760.50,302.58 L760.75,302.47 L761.00,302.36 L761.25,302.25 L761.50,302.14 L761.75,302.03 L762.00,301.93 L762.25,301.82 L762.50,301.71 L762.75,301.60 L763.00,301.49 L763.25,301.38 L763.50,301.28 L763.75,301.17 L764.00,301.06 L764.25,300.95 L764.50,300.85 L764.75,300.74 L765.00,300.63 L765.25,300.52 L765.50,300.42 L765.75,300.31 L766.00,300.20 L766.25,300.10 L766.50,299.99 L766.75,299.88 L767.00,299.78 L767.25,299.67 L767.50,299.56 L767.75,299.46 L768.00,299.35 L768.25,299.24 L768.50,299.14 L768.75,299.03 L769.00,298.93 L769.25,298.82 L769.50,298.71 L769.75,298.61 L770.00,298.50 L770.25,298.39 L770.50,298.29 L770.75,298.18 L771.00,298.08 L771.25,297.97 L771.50,297.86 L771.75,297.76 L772.00,297.65 L772.25,297.55 L772.50,297.44 L772.75,297.34 L773.00,297.23 L773.25,297.12 L773.50,297.02 L773.75,296.91 L774.00,296.81 L774.25,296.70 L774.50,296.60 L774.75,296.49 L775.00,296.39 L775.25,296.28 L775.50,296.18 L775.75,296.07 L776.00,295.97 L776.25,295.86 L776.50,295.76 L776.75,295.65 L777.00,295.55 L777.25,295.45 L777.50,295.34 L777.65,295.28 M803.45,284.87 L803.50,284.85 L803.75,284.75 L804.00,284.66 L804.25,284.56 L804.50,284.47 L804.75,284.37 L805.00,284.27 L805.25,284.18 L805.50,284.09 L805.75,283.99 L806.00,283.90 L806.25,283.80 L806.50,283.71 L806.75,283.61 L807.00,283.52 L807.25,283.43 L807.50,283.33 L807.75,283.24 L808.00,283.14 L808.25,283.05 L808.50,282.96 L808.75,282.86 L809.00,282.77 L809.25,282.68 L809.50,282.59 L809.75,282.49 L810.00,282.40 L810.25,282.31 L810.50,282.22 L810.75,282.12 L811.00,282.03 L811.25,281.94 L811.50,281.85 L811.75,281.76 L812.00,281.67 L812.25,281.57 L812.50,281.48 L812.75,281.39 L813.00,281.30 L813.25,281.21 L813.50,281.12 L813.75,281.03 L814.00,280.94 L814.25,280.85 L814.50,280.76 L814.75,280.67 L815.00,280.58 L815.25,280.49 L815.50,280.40 L815.75,280.31 L816.00,280.22 L816.25,280.13 L816.50,280.04 L816.75,279.96 L817.00,279.87 L817.25,279.78 L817.50,279.69 L817.75,279.60 L818.00,279.51 L818.25,279.42 L818.50,279.33 L818.75,279.24 L819.00,279.16 L819.25,279.07 L819.50,278.98 L819.75,278.89 L820.00,278.80 L820.25,278.71 L820.50,278.62 L820.75,278.53 L821.00,278.45 L821.25,278.36 L821.50,278.27 L821.75,278.18 L822.00,278.09 L822.25,278.00 L822.50,277.92 L822.75,277.83 L823.00,277.74 L823.25,277.65 L823.50,277.56 L823.75,277.48 L824.00,277.39 L824.25,277.30 L824.50,277.21 L824.75,277.13 L825.00,277.04 L825.25,276.95 L825.50,276.86 L825.75,276.78 L826.00,276.69 L826.25,276.60 L826.50,276.51 L826.75,276.43 L827.00,276.34 L827.25,276.25 L827.50,276.17 L827.75,276.08 L828.00,275.99 L828.25,275.91 L828.50,275.82 L828.75,275.73 L829.00,275.65 L829.25,275.56 L829.50,275.47 L829.75,275.39 L830.00,275.30 L830.25,275.21 L830.50,275.13 L830.75,275.04 L831.00,274.95 L831.25,274.87 L831.50,274.78 L831.75,274.70 L832.00,274.61 L832.25,274.52 L832.50,274.44 L832.75,274.35 L833.00,274.26 L833.25,274.18 L833.50,274.09 L833.75,274.00 L834.00,273.92 L834.25,273.83 L834.50,273.75 L834.75,273.66 L835.00,273.57 L835.25,273.49 L835.50,273.40 L835.75,273.32 L836.00,273.23 L836.25,273.15 L836.50,273.06 L836.75,272.98 L837.00,272.89 L837.25,272.81 L837.50,272.73 L837.75,272.64 L838.00,272.56 L838.25,272.48 L838.50,272.39 L838.75,272.31 L839.00,272.23 L839.25,272.15 L839.50,272.06 L839.75,271.98 L840.00,271.90 L840.25,271.82 L840.50,271.74 L840.75,271.66 L841.00,271.58 L841.25,271.50 L841.50,271.42 L841.75,271.34 L842.00,271.26 L842.25,271.18 L842.50,271.10 L842.75,271.02 L843.00,270.94 L843.25,270.86 L843.50,270.78 L843.75,270.70 L844.00,270.62 L844.25,270.55 L844.50,270.47 L844.75,270.39 L845.00,270.31 L845.25,270.24 L845.50,270.16 L845.75,270.08 L846.00,270.00 L846.25,269.93 L846.50,269.85 L846.75,269.77 L847.00,269.70 L847.25,269.62 L847.50,269.55 L847.55,269.53 M873.86,262.64 L874.00,262.61 L874.25,262.56 L874.50,262.51 L874.75,262.45 L875.00,262.40 L875.25,262.35 L875.50,262.30 L875.75,262.24 L876.00,262.19 L876.25,262.14 L876.50,262.09 L876.75,262.04 L877.00,261.99 L877.25,261.94 L877.50,261.89 L877.75,261.84 L878.00,261.79 L878.25,261.74 L878.50,261.69 L878.75,261.64 L879.00,261.59 L879.25,261.54 L879.50,261.50 L879.75,261.45 L880.00,261.40 L880.25,261.35 L880.50,261.31 L880.75,261.26 L881.00,261.21 L881.25,261.16 L881.50,261.12 L881.75,261.07 L882.00,261.03 L882.25,260.98 L882.50,260.94 L882.75,260.89 L883.00,260.84 L883.25,260.80 L883.50,260.76 L883.75,260.71 L884.00,260.67 L884.25,260.62 L884.50,260.58 L884.75,260.54 L885.00,260.49 L885.25,260.45 L885.50,260.41 L885.75,260.37 L886.00,260.32 L886.25,260.28 L886.50,260.24 L886.75,260.20 L887.00,260.16 L887.25,260.12 L887.50,260.08 L887.75,260.04 L888.00,260.00 L888.25,259.96 L888.50,259.92 L888.75,259.89 L889.00,259.85 L889.25,259.81 L889.50,259.77 L889.75,259.74 L890.00,259.70 L890.25,259.66 L890.50,259.63 L890.75,259.59 L891.00,259.56 L891.25,259.52 L891.50,259.49 L891.75,259.45 L892.00,259.42 L892.25,259.39 L892.50,259.35 L892.75,259.32 L893.00,259.29 L893.25,259.26 L893.50,259.22 L893.75,259.19 L894.00,259.16 L894.25,259.13 L894.50,259.10 L894.75,259.07 L895.00,259.04 L895.25,259.01 L895.50,258.98 L895.75,258.95 L896.00,258.92 L896.25,258.89 L896.50,258.86 L896.75,258.84 L897.00,258.81 L897.25,258.78 L897.50,258.75 L897.75,258.73 L898.00,258.70 L898.25,258.67 L898.50,258.65 L898.75,258.62 L899.00,258.60 L899.25,258.57 L899.50,258.55 L899.75,258.52 L900.00,258.50 L900.25,258.48 L900.50,258.45 L900.75,258.43 L901.00,258.41 L901.25,258.38 L901.50,258.36 L901.75,258.34 L902.00,258.32 L902.25,258.30 L902.50,258.28 L902.75,258.25 L903.00,258.23 L903.25,258.21 L903.50,258.19 L903.75,258.17 L904.00,258.16 L904.25,258.14 L904.50,258.12 L904.75,258.10 L905.00,258.08 L905.25,258.06 L905.50,258.05 L905.75,258.03 L906.00,258.01 L906.25,258.00 L906.50,257.98 L906.75,257.97 L907.00,257.95 L907.25,257.94 L907.50,257.92 L907.75,257.91 L908.00,257.89 L908.25,257.88 L908.50,257.87 L908.75,257.86 L909.00,257.84 L909.25,257.83 L909.50,257.82 L909.75,257.81 L910.00,257.80 L910.25,257.79 L910.50,257.78 L910.75,257.77 L911.00,257.76 L911.25,257.75 L911.50,257.75 L911.75,257.74 L912.00,257.73 L912.25,257.72 L912.50,257.72 L912.75,257.71 L913.00,257.70 L913.25,257.70 L913.50,257.69 L913.75,257.69 L914.00,257.68 L914.25,257.68 L914.50,257.68 L914.75,257.67 L915.00,257.67 L915.25,257.67 L915.50,257.66 L915.75,257.66 L916.00,257.66 L916.25,257.66 L916.50,257.66 L916.75,257.66 L917.00,257.66 L917.25,257.66 L917.50,257.66 L917.75,257.66 L918.00,257.67 L918.25,257.67 L918.50,257.67 L918.75,257.67 L919.00,257.68 L919.25,257.68 L919.50,257.69 L919.75,257.69 L920.00,257.70 L920.19,257.70 M947.75,260.21 L947.75,260.21 L948.00,260.24 L948.25,260.28 L948.50,260.31 L948.75,260.34 L949.00,260.37 L949.25,260.40 L949.50,260.44 L949.75,260.47 L950.00,260.50 L950.25,260.53 L950.50,260.57 L950.75,260.60 L951.00,260.63 L951.25,260.67 L951.50,260.70 L951.75,260.74 L952.00,260.77 L952.25,260.81 L952.50,260.84 L952.75,260.88 L953.00,260.91 L953.25,260.95 L953.50,260.98 L953.75,261.02 L954.00,261.06 L954.25,261.09 L954.50,261.13 L954.75,261.16 L955.00,261.20 L955.25,261.24 L955.50,261.27 L955.75,261.31 L956.00,261.34 L956.25,261.38 L956.50,261.42 L956.75,261.45 L957.00,261.49 L957.25,261.52 L957.50,261.56 L957.75,261.59 L958.00,261.63 L958.25,261.66 L958.50,261.70 L958.75,261.73 L959.00,261.77 L959.25,261.80 L959.50,261.83 L959.75,261.87 L960.00,261.90 L960.25,261.93 L960.50,261.96 L960.75,262.00 L961.00,262.03 L961.25,262.06 L961.50,262.09 L961.75,262.12 L962.00,262.16 L962.25,262.19 L962.50,262.22 L962.75,262.25 L963.00,262.28 L963.25,262.31 L963.50,262.34 L963.75,262.37 L964.00,262.40 L964.25,262.43 L964.50,262.46 L964.75,262.49 L965.00,262.53 L965.25,262.55 L965.50,262.58 L965.75,262.61 L966.00,262.64 L966.25,262.67 L966.50,262.70 L966.75,262.73 L967.00,262.76 L967.25,262.79 L967.50,262.82 L967.75,262.85 L968.00,262.88 L968.25,262.90 L968.50,262.93 L968.75,262.96 L969.00,262.99 L969.25,263.02 L969.50,263.04 L969.75,263.07 L970.00,263.10 L970.25,263.13 L970.50,263.15 L970.75,263.18 L971.00,263.21 L971.25,263.24 L971.50,263.26 L971.75,263.29 L972.00,263.31 L972.25,263.34 L972.50,263.37 L972.75,263.39 L973.00,263.42 L973.25,263.44 L973.50,263.47 L973.75,263.49 L974.00,263.52 L974.25,263.54 L974.50,263.57 L974.75,263.59 L975.00,263.62 L975.25,263.64 L975.50,263.67 L975.75,263.69 L976.00,263.72 L976.25,263.74 L976.50,263.77 L976.75,263.79 L977.00,263.81 L977.25,263.84 L977.50,263.86 L977.75,263.89 L978.00,263.91 L978.25,263.93 L978.50,263.96 L978.75,263.98 L979.00,264.00 L979.25,264.03 L979.50,264.05 L979.75,264.08 L980.00,264.10 L980.25,264.12 L980.50,264.15 L980.75,264.17 L981.00,264.19 L981.25,264.21 L981.50,264.24 L981.75,264.26 L982.00,264.28 L982.25,264.30 L982.50,264.32 L982.75,264.34 L983.00,264.36 L983.25,264.39 L983.50,264.41 L983.75,264.43 L984.00,264.45 L984.25,264.47 L984.50,264.49 L984.75,264.51 L985.00,264.53 L985.25,264.55 L985.50,264.57 L985.75,264.59 L986.00,264.62 L986.25,264.64 L986.50,264.66 L986.75,264.68 L987.00,264.70 L987.25,264.73 L987.50,264.75 L987.75,264.77 L988.00,264.80 L988.25,264.82 L988.50,264.84 L988.75,264.87 L989.00,264.89 L989.25,264.92 L989.50,264.95 L989.75,264.97 L990.00,265.00 L990.25,265.03 L990.50,265.06 L990.75,265.08 L991.00,265.11 L991.25,265.14 L991.50,265.17 L991.75,265.20 L992.00,265.23 L992.25,265.26 L992.50,265.29 L992.75,265.32 L993.00,265.35 L993.25,265.38 L993.50,265.41 L993.75,265.44 L994.00,265.47 L994.14,265.49 M1020.96,270.32 L1021.00,270.33 L1021.25,270.39 L1021.50,270.45 L1021.75,270.51 L1022.00,270.57 L1022.25,270.63 L1022.50,270.69 L1022.75,270.75 L1023.00,270.81 L1023.25,270.87 L1023.50,270.93 L1023.75,271.00 L1024.00,271.06 L1024.25,271.12 L1024.50,271.18 L1024.75,271.24 L1025.00,271.31 L1025.25,271.37 L1025.50,271.43 L1025.75,271.50 L1026.00,271.56 L1026.25,271.62 L1026.50,271.69 L1026.75,271.75 L1027.00,271.82 L1027.25,271.88 L1027.50,271.94 L1027.75,272.01 L1028.00,272.07 L1028.25,272.14 L1028.50,272.20 L1028.75,272.27 L1029.00,272.34 L1029.25,272.40 L1029.50,272.47 L1029.75,272.53 L1030.00,272.60 L1030.25,272.67 L1030.50,272.73 L1030.75,272.80 L1031.00,272.87 L1031.25,272.93 L1031.50,273.00 L1031.75,273.07 L1032.00,273.13 L1032.25,273.20 L1032.50,273.27 L1032.75,273.34 L1033.00,273.41 L1033.25,273.47 L1033.50,273.54 L1033.75,273.61 L1034.00,273.68 L1034.25,273.75 L1034.50,273.82 L1034.75,273.89 L1035.00,273.96 L1035.25,274.03 L1035.50,274.10 L1035.75,274.17 L1036.00,274.24 L1036.25,274.31 L1036.50,274.38 L1036.75,274.45 L1037.00,274.52 L1037.25,274.59 L1037.50,274.66 L1037.75,274.74 L1038.00,274.81 L1038.25,274.88 L1038.50,274.96 L1038.75,275.03 L1039.00,275.10 L1039.25,275.18 L1039.50,275.25 L1039.75,275.33 L1040.00,275.40 L1040.25,275.48 L1040.50,275.55 L1040.75,275.63 L1041.00,275.70 L1041.25,275.78 L1041.50,275.86 L1041.75,275.93 L1042.00,276.01 L1042.25,276.09 L1042.50,276.17 L1042.75,276.25 L1043.00,276.32 L1043.25,276.40 L1043.50,276.48 L1043.75,276.56 L1044.00,276.64 L1044.25,276.72 L1044.50,276.80 L1044.75,276.88 L1045.00,276.96 L1045.25,277.04 L1045.50,277.12 L1045.75,277.21 L1046.00,277.29 L1046.25,277.37 L1046.50,277.45 L1046.75,277.53 L1047.00,277.61 L1047.25,277.69 L1047.50,277.78 L1047.75,277.86 L1048.00,277.94 L1048.25,278.02 L1048.50,278.11 L1048.75,278.19 L1049.00,278.27 L1049.25,278.35 L1049.50,278.44 L1049.75,278.52 L1050.00,278.60 L1050.25,278.68 L1050.50,278.77 L1050.75,278.85 L1051.00,278.93 L1051.25,279.01 L1051.50,279.10 L1051.75,279.18 L1052.00,279.26 L1052.25,279.35 L1052.50,279.43 L1052.75,279.51 L1053.00,279.60 L1053.25,279.68 L1053.50,279.76 L1053.75,279.85 L1054.00,279.93 L1054.25,280.02 L1054.50,280.10 L1054.75,280.18 L1055.00,280.27 L1055.25,280.35 L1055.50,280.44 L1055.75,280.52 L1056.00,280.61 L1056.25,280.69 L1056.50,280.78 L1056.75,280.87 L1057.00,280.95 L1057.25,281.04 L1057.50,281.12 L1057.75,281.21 L1058.00,281.30 L1058.25,281.38 L1058.50,281.47 L1058.75,281.56 L1059.00,281.65 L1059.25,281.73 L1059.50,281.82 L1059.75,281.91 L1060.00,282.00 L1060.25,282.09 L1060.50,282.18 L1060.75,282.27 L1061.00,282.36 L1061.25,282.45 L1061.50,282.54 L1061.75,282.63 L1062.00,282.72 L1062.25,282.81 L1062.50,282.90 L1062.75,282.99 L1063.00,283.08 L1063.25,283.17 L1063.50,283.26 L1063.75,283.36 L1064.00,283.45 L1064.25,283.54 L1064.50,283.63 L1064.75,283.73 L1065.00,283.82 L1065.25,283.91 L1065.50,284.00 L1065.57,284.03 M1091.39,294.30 L1091.50,294.34 L1091.75,294.45 L1092.00,294.56 L1092.25,294.67 L1092.50,294.78 L1092.75,294.89 L1093.00,294.99 L1093.25,295.10 L1093.50,295.21 L1093.75,295.32 L1094.00,295.43 L1094.25,295.54 L1094.50,295.65 L1094.75,295.76 L1095.00,295.88 L1095.25,295.99 L1095.50,296.10 L1095.75,296.21 L1096.00,296.32 L1096.25,296.43 L1096.50,296.54 L1096.75,296.65 L1097.00,296.76 L1097.25,296.87 L1097.50,296.99 L1097.75,297.10 L1098.00,297.21 L1098.25,297.32 L1098.50,297.43 L1098.75,297.54 L1099.00,297.65 L1099.25,297.77 L1099.50,297.88 L1099.75,297.99 L1100.00,298.10 L1100.25,298.21 L1100.50,298.32 L1100.75,298.43 L1101.00,298.54 L1101.25,298.66 L1101.50,298.77 L1101.75,298.88 L1102.00,298.99 L1102.25,299.10 L1102.50,299.21 L1102.75,299.32 L1103.00,299.43 L1103.25,299.54 L1103.50,299.66 L1103.75,299.77 L1104.00,299.88 L1104.25,299.99 L1104.50,300.10 L1104.75,300.21 L1105.00,300.32 L1105.25,300.44 L1105.50,300.55 L1105.75,300.66 L1106.00,300.77 L1106.25,300.89 L1106.50,301.00 L1106.75,301.11 L1107.00,301.22 L1107.25,301.34 L1107.50,301.45 L1107.75,301.57 L1108.00,301.68 L1108.25,301.79 L1108.50,301.91 L1108.75,302.02 L1109.00,302.14 L1109.25,302.25 L1109.50,302.37 L1109.75,302.48 L1110.00,302.60 L1110.25,302.72 L1110.50,302.83 L1110.75,302.95 L1111.00,303.07 L1111.25,303.18 L1111.50,303.30 L1111.75,303.42 L1112.00,303.54 L1112.25,303.65 L1112.50,303.77 L1112.75,303.89 L1113.00,304.01 L1113.25,304.13 L1113.50,304.25 L1113.75,304.36 L1114.00,304.48 L1114.25,304.60 L1114.50,304.72 L1114.75,304.84 L1115.00,304.96 L1115.25,305.08 L1115.50,305.20 L1115.75,305.32 L1116.00,305.44 L1116.25,305.56 L1116.50,305.69 L1116.75,305.81 L1117.00,305.93 L1117.25,306.05 L1117.50,306.17 L1117.75,306.29 L1118.00,306.42 L1118.25,306.54 L1118.50,306.66 L1118.75,306.78 L1119.00,306.91 L1119.25,307.03 L1119.50,307.15 L1119.75,307.28 L1120.00,307.40 L1120.25,307.52 L1120.50,307.65 L1120.75,307.77 L1121.00,307.90 L1121.25,308.02 L1121.50,308.15 L1121.75,308.27 L1122.00,308.40 L1122.25,308.53 L1122.50,308.65 L1122.75,308.78 L1123.00,308.90 L1123.25,309.03 L1123.50,309.16 L1123.75,309.29 L1124.00,309.41 L1124.25,309.54 L1124.50,309.67 L1124.75,309.80 L1125.00,309.92 L1125.25,310.05 L1125.50,310.18 L1125.75,310.31 L1126.00,310.44 L1126.25,310.57 L1126.50,310.70 L1126.75,310.82 L1127.00,310.95 L1127.25,311.08 L1127.50,311.21 L1127.75,311.34 L1128.00,311.47 L1128.25,311.60 L1128.50,311.73 L1128.75,311.86 L1129.00,311.98 L1129.25,312.11 L1129.50,312.24 L1129.75,312.37 L1130.00,312.50 L1130.25,312.63 L1130.50,312.76 L1130.75,312.89 L1131.00,313.01 L1131.25,313.14 L1131.50,313.27 L1131.75,313.40 L1132.00,313.53 L1132.25,313.66 L1132.50,313.79 L1132.75,313.91 L1133.00,314.04 L1133.25,314.17 L1133.50,314.30 L1133.56,314.33 M1157.75,327.60 L1158.00,327.74 L1158.25,327.88 L1158.50,328.03 L1158.75,328.17 L1159.00,328.32 L1159.25,328.46 L1159.50,328.61 L1159.75,328.75 L1160.00,328.90 L1160.25,329.05 L1160.50,329.19 L1160.75,329.34 L1161.00,329.49 L1161.25,329.63 L1161.50,329.78 L1161.75,329.93 L1162.00,330.08 L1162.25,330.23 L1162.50,330.37 L1162.75,330.52 L1163.00,330.67 L1163.25,330.82 L1163.50,330.97 L1163.75,331.12 L1164.00,331.27 L1164.25,331.42 L1164.50,331.57 L1164.75,331.72 L1165.00,331.87 L1165.25,332.02 L1165.50,332.17 L1165.75,332.32 L1166.00,332.47 L1166.25,332.62 L1166.50,332.77 L1166.75,332.92 L1167.00,333.08 L1167.25,333.23 L1167.50,333.38 L1167.75,333.53 L1168.00,333.68 L1168.25,333.83 L1168.50,333.99 L1168.75,334.14 L1169.00,334.29 L1169.25,334.44 L1169.50,334.60 L1169.75,334.75 L1170.00,334.90 L1170.25,335.05 L1170.49,335.20 L1170.73,335.34 L1170.96,335.48 L1171.20,335.62 L1171.42,335.76 L1171.65,335.89 L1171.87,336.03 L1172.09,336.16 L1172.31,336.29 L1172.53,336.42 L1172.75,336.55 L1172.96,336.68 L1173.18,336.80 L1173.40,336.93 L1173.62,337.06 L1173.83,337.19 L1174.05,337.33 L1174.28,337.46 L1174.50,337.59 L1174.73,337.73 L1174.96,337.87 L1175.19,338.01 L1175.42,338.16 L1175.66,338.30 L1175.91,338.46 L1176.16,338.61 L1176.41,338.77 L1176.67,338.93 L1176.94,339.10 L1177.21,339.28 L1177.49,339.45 L1177.77,339.64 L1178.07,339.83 L1178.37,340.02 L1178.68,340.22 L1178.99,340.43 L1179.32,340.65 L1179.65,340.87 L1180.00,341.10 L1180.35,341.34 L1180.71,341.59 L1181.08,341.84 L1181.45,342.10 L1181.83,342.37 L1182.21,342.65 L1182.60,342.94 L1182.99,343.23 L1183.39,343.52 L1183.80,343.83 L1184.21,344.13 L1184.63,344.45 L1185.05,344.76 L1185.47,345.08 L1185.90,345.41 L1186.34,345.74 L1186.78,346.07 L1187.23,346.40 L1187.68,346.74 L1188.13,347.07 L1188.59,347.41 L1189.05,347.75 L1189.52,348.09 L1189.99,348.43 L1190.47,348.77 L1190.95,349.11 L1191.43,349.45 L1191.91,349.79 L1192.40,350.13 L1192.90,350.46 L1193.39,350.79 L1193.89,351.12 L1194.40,351.45 L1194.90,351.77 L1195.41,352.09 L1195.93,352.40 L1196.44,352.71 L1196.90,352.98 M1222.00,364.26 L1222.25,364.41 L1222.58,364.61 L1222.89,364.81 L1223.18,365.00 L1223.45,365.19 L1223.70,365.37 L1223.94,365.55 L1224.16,365.72 L1224.36,365.89 L1224.54,366.05 L1224.71,366.21 L1224.87,366.37 L1225.02,366.52 L1225.15,366.67 L1225.27,366.82 L1225.38,366.97 L1225.49,367.11 L1225.58,367.25 L1225.67,367.40 L1225.74,367.54 L1225.82,367.68 L1225.88,367.82 L1225.95,367.96 L1226.00,368.10 L1226.06,368.24 L1226.11,368.39 L1226.17,368.53 L1226.22,368.68 L1226.27,368.83 L1226.32,368.98 L1226.38,369.14 L1226.44,369.29 L1226.50,369.45 L1226.56,369.62 L1226.64,369.79 L1226.71,369.96 L1226.80,370.14 L1226.89,370.32 L1226.99,370.51 L1227.10,370.70 L1227.21,370.90 L1227.33,371.10 L1227.44,371.30 L1227.55,371.50 L1227.66,371.70 L1227.77,371.91 L1227.88,372.12 L1227.99,372.33 L1228.10,372.54 L1228.20,372.75 L1228.31,372.96 L1228.41,373.18 L1228.52,373.40 L1228.62,373.62 L1228.72,373.84 L1228.82,374.06 L1228.93,374.29 L1229.03,374.51 L1229.13,374.74 L1229.23,374.97 L1229.32,375.20 L1229.42,375.43 L1229.52,375.67 L1229.62,375.90 L1229.71,376.14 L1229.81,376.38 L1229.90,376.62 L1230.00,376.86 L1230.09,377.11 L1230.18,377.35 L1230.28,377.60 L1230.37,377.85 L1230.46,378.10 L1230.55,378.35 L1230.65,378.61 L1230.74,378.86 L1230.83,379.12 L1230.92,379.38 L1231.01,379.64 L1231.10,379.90 L1231.19,380.16 L1231.28,380.43 L1231.37,380.69 L1231.45,380.96 L1231.54,381.22 L1231.62,381.49 L1231.71,381.76 L1231.79,382.03 L1231.87,382.30 L1231.95,382.58 L1232.04,382.85 L1232.12,383.13 L1232.20,383.40 L1232.28,383.68 L1232.35,383.96 L1232.43,384.25 L1232.51,384.53 L1232.59,384.82 L1232.67,385.10 L1232.74,385.39 L1232.82,385.69 L1232.90,385.98 L1232.97,386.28 L1233.05,386.57 L1233.13,386.88 L1233.20,387.18 L1233.28,387.48 L1233.36,387.79 L1233.43,388.10 L1233.51,388.41 L1233.59,388.73 L1233.67,389.05 L1233.74,389.37 L1233.82,389.69 L1233.90,390.02 L1233.98,390.35 L1234.06,390.68 L1234.14,391.02 L1234.22,391.36 L1234.30,391.70 L1234.38,392.04 L1234.46,392.39 L1234.53,392.73 L1234.60,393.07 L1234.67,393.41 L1234.73,393.75 L1234.80,394.09 L1234.86,394.43 L1234.92,394.77 L1234.98,395.11 L1235.04,395.46 L1235.10,395.81 L1235.16,396.15 L1235.22,396.50 L1235.28,396.86 L1235.33,397.21 L1235.39,397.57 L1235.46,397.94 L1235.52,398.30 L1235.58,398.68 L1235.65,399.05 L1235.71,399.43 L1235.78,399.82 L1235.86,400.21 L1235.93,400.60 L1236.01,401.00 L1236.09,401.41 L1236.18,401.82 L1236.27,402.25 L1236.36,402.67 L1236.46,403.11 L1236.57,403.55 L1236.68,404.00 L1236.79,404.46 L1236.91,404.93 L1237.03,405.40 L1237.17,405.89 L1237.30,406.38 L1237.45,406.89 L1237.57,407.29 M1246.74,433.30 L1246.92,433.76 L1247.14,434.30 L1247.36,434.84 L1247.57,435.37 L1247.78,435.89 L1247.99,436.40 L1248.20,436.91 L1248.41,437.41 L1248.61,437.90 L1248.82,438.38 L1249.02,438.86 L1249.23,439.33 L1249.43,439.80 L1249.63,440.27 L1249.83,440.73 L1250.04,441.19 L1250.24,441.64 L1250.44,442.09 L1250.65,442.54 L1250.85,442.99 L1251.06,443.44 L1251.26,443.89 L1251.47,444.34 L1251.68,444.78 L1251.89,445.23 L1252.10,445.68 L1252.32,446.14 L1252.54,446.59 L1252.76,447.05 L1252.98,447.51 L1253.21,447.97 L1253.44,448.44 L1253.67,448.91 L1253.90,449.39 L1254.14,449.88 L1254.39,450.37 L1254.63,450.86 L1254.88,451.37 L1255.14,451.88 L1255.40,452.40 L1255.66,452.93 L1255.93,453.46 L1256.19,453.99 L1256.46,454.53 L1256.73,455.08 L1257.00,455.62 L1257.27,456.17 L1257.55,456.73 L1257.82,457.29 L1258.10,457.85 L1258.38,458.41 L1258.66,458.98 L1258.95,459.55 L1259.24,460.12 L1259.52,460.69 L1259.82,461.27 L1260.11,461.84 L1260.41,462.42 L1260.70,463.00 L1261.01,463.58 L1261.31,464.16 L1261.62,464.74 L1261.93,465.33 L1262.24,465.91 L1262.56,466.49 L1262.87,467.07 L1263.20,467.66 L1263.52,468.24 L1263.85,468.82 L1264.18,469.40 L1264.52,469.98 L1264.86,470.56 L1265.20,471.13 L1265.54,471.70 L1265.89,472.28 L1266.25,472.85 L1266.60,473.41 L1266.97,473.98 L1267.33,474.54 L1267.64,475.01 M1285.38,497.30 L1285.75,497.71 L1286.42,498.44 L1287.12,499.20 L1287.85,499.97 L1288.60,500.77 L1289.37,501.58 L1290.16,502.40 L1290.97,503.25 L1291.80,504.10 L1292.64,504.97 L1293.50,505.85 L1294.37,506.75 L1295.26,507.65 L1296.15,508.55 L1297.06,509.47 L1297.97,510.39 L1298.88,511.32 L1299.81,512.24 L1300.73,513.18 L1301.66,514.11 L1302.58,515.04 L1303.51,515.97 L1304.43,516.89 L1305.35,517.81 L1306.26,518.73 L1307.17,519.64 L1308.06,520.54 L1308.95,521.43 L1309.83,522.32 L1310.69,523.19 L1311.54,524.05 L1312.37,524.89 L1313.19,525.72 L1313.99,526.53 L1314.76,527.33 L1315.52,528.10 L1316.25,528.86 L1316.96,529.60 L1317.64,530.31 L1318.02,530.70 M1336.69,551.49 L1337.08,551.89 L1337.80,552.61 L1338.55,553.36 L1339.33,554.13 L1340.14,554.93 L1340.98,555.76 L1341.84,556.60 L1342.72,557.47 L1343.63,558.35 L1344.56,559.25 L1345.50,560.17 L1346.46,561.10 L1347.43,562.03 L1348.42,562.98 L1349.41,563.93 L1350.41,564.89 L1351.41,565.86 L1352.42,566.82 L1353.43,567.79 L1354.44,568.75 L1355.44,569.71 L1356.44,570.66 L1357.44,571.61 L1358.42,572.55 L1359.39,573.47 L1360.35,574.38 L1361.30,575.28 L1362.23,576.16 L1363.14,577.03 L1364.02,577.87 L1364.89,578.69 L1365.73,579.49 L1366.54,580.26 L1367.32,581.01 L1368.08,581.72 L1368.80,582.41 L1369.48,583.06 L1370.13,583.68 L1370.33,583.88" stroke="#ed7d31" stroke-width="7" stroke-linecap="round" stroke-linejoin="round" fill="none"/>
<g fill="#7030a0"><circle cx="160.00" cy="781.40" r="5"/><circle cx="176.36" cy="768.97" r="5"/><circle cx="192.02" cy="756.31" r="5"/><circle cx="207.49" cy="742.95" r="5"/><circle cx="222.03" cy="729.61" r="5"/><circle cx="237.48" cy="714.79" r="5"/><circle cx="251.34" cy="700.94" r="5"/><circle cx="265.57" cy="686.13" r="5"/><circle cx="278.93" cy="671.76" r="5"/><circle cx="292.66" cy="656.51" r="5"/><circle cx="305.91" cy="641.48" r="5"/><circle cx="319.16" cy="626.27" r="5"/><circle cx="332.30" cy="611.01" r="5"/><circle cx="345.40" cy="595.72" r="5"/><circle cx="359.62" cy="579.33" r="5"/><circle cx="372.86" cy="564.15" r="5"/><circle cx="386.09" cy="549.32" r="5"/><circle cx="399.61" cy="534.52" r="5"/><circle cx="413.60" cy="519.70" r="5"/><circle cx="427.72" cy="505.12" r="5"/><circle cx="441.66" cy="491.06" r="5"/><circle cx="456.46" cy="476.68" r="5"/><circle cx="471.28" cy="462.71" r="5"/><circle cx="486.13" cy="449.16" r="5"/><circle cx="501.51" cy="435.59" r="5"/><circle cx="516.92" cy="422.48" r="5"/><circle cx="532.43" cy="409.63" r="5"/><circle cx="548.33" cy="397.00" r="5"/><circle cx="564.26" cy="384.88" r="5"/><circle cx="580.47" cy="372.96" r="5"/><circle cx="596.80" cy="361.42" r="5"/><circle cx="613.73" cy="349.92" r="5"/><circle cx="630.92" cy="338.82" r="5"/><circle cx="648.72" cy="327.77" r="5"/><circle cx="665.80" cy="317.56" r="5"/><circle cx="683.37" cy="307.50" r="5"/><circle cx="701.04" cy="297.73" r="5"/><circle cx="718.92" cy="288.26" r="5"/><circle cx="736.89" cy="278.90" r="5"/><circle cx="755.12" cy="269.74" r="5"/><circle cx="773.29" cy="260.84" r="5"/><circle cx="791.59" cy="252.27" r="5"/><circle cx="810.23" cy="244.00" r="5"/><circle cx="828.95" cy="236.50" r="5"/><circle cx="848.04" cy="229.64" r="5"/><circle cx="867.25" cy="223.91" r="5"/><circle cx="886.94" cy="219.30" r="5"/><circle cx="906.95" cy="216.23" r="5"/><circle cx="927.08" cy="214.61" r="5"/><circle cx="947.31" cy="214.41" r="5"/><circle cx="967.69" cy="215.77" r="5"/><circle cx="987.83" cy="218.43" r="5"/><circle cx="1007.71" cy="222.27" r="5"/><circle cx="1027.44" cy="227.28" r="5"/><circle cx="1046.83" cy="233.32" r="5"/><circle cx="1065.60" cy="240.10" r="5"/><circle cx="1084.55" cy="247.87" r="5"/><circle cx="1102.76" cy="256.20" r="5"/><circle cx="1121.19" cy="265.31" r="5"/><circle cx="1138.94" cy="274.91" r="5"/><circle cx="1156.61" cy="284.98" r="5"/><circle cx="1173.95" cy="295.43" r="5"/><circle cx="1190.20" cy="307.20" r="5"/><circle cx="1208.80" cy="313.70" r="5"/><circle cx="1226.10" cy="322.30" r="5"/><circle cx="1232.00" cy="341.60" r="5"/><circle cx="1235.40" cy="361.50" r="5"/><circle cx="1238.90" cy="381.40" r="5"/><circle cx="1245.90" cy="400.60" r="5"/><circle cx="1255.70" cy="416.50" r="5"/><circle cx="1267.70" cy="434.40" r="5"/><circle cx="1280.90" cy="449.80" r="5"/><circle cx="1295.10" cy="464.60" r="5"/><circle cx="1309.20" cy="479.00" r="5"/><circle cx="1323.90" cy="492.60" r="5"/><circle cx="1338.80" cy="506.60" r="5"/><circle cx="1353.60" cy="520.50" r="5"/><circle cx="1368.10" cy="534.50" r="5"/></g>
<path d="M162.31,779.45 L162.51,779.28 L162.76,779.07 L163.02,778.85 L163.28,778.63 L163.55,778.40 L163.82,778.17 L164.10,777.94 L164.38,777.70 L164.66,777.46 L164.94,777.22 L165.23,776.97 L165.52,776.73 L165.81,776.48 L166.10,776.24 L166.39,775.99 L166.69,775.74 L166.98,775.49 L167.27,775.25 L167.55,775.00 L167.84,774.76 L168.12,774.51 L168.40,774.27 L168.68,774.03 L168.96,773.80 L169.22,773.57 L169.49,773.34 L169.75,773.12 L170.00,772.90 L170.25,772.68 L170.50,772.47 L170.75,772.25 L171.00,772.03 L171.25,771.82 L171.50,771.60 L171.75,771.38 L172.00,771.16 L172.19,771.00 M181.88,762.42 L182.00,762.32 L182.25,762.09 L182.50,761.87 L182.75,761.64 L183.00,761.42 L183.25,761.20 L183.50,760.97 L183.75,760.75 L184.00,760.52 L184.25,760.30 L184.50,760.07 L184.75,759.85 L185.00,759.62 L185.25,759.40 L185.50,759.17 L185.75,758.95 L186.00,758.72 L186.25,758.50 L186.50,758.27 L186.75,758.05 L187.00,757.82 L187.25,757.59 L187.50,757.37 L187.75,757.14 L188.00,756.92 L188.25,756.69 L188.50,756.46 L188.75,756.24 L189.00,756.01 L189.25,755.78 L189.50,755.55 L189.75,755.33 L190.00,755.10 L190.25,754.87 L190.50,754.64 L190.75,754.42 L191.00,754.19 L191.25,753.96 L191.50,753.73 L191.53,753.71 M202.25,743.78 L202.50,743.55 L202.75,743.31 L203.00,743.08 L203.25,742.84 L203.50,742.60 L203.75,742.36 L204.00,742.13 L204.25,741.89 L204.50,741.65 L204.75,741.41 L205.00,741.17 L205.25,740.94 L205.50,740.70 L205.75,740.46 L206.00,740.22 L206.25,739.98 L206.50,739.74 L206.75,739.51 L207.00,739.27 L207.25,739.03 L207.50,738.79 L207.75,738.55 L208.00,738.31 L208.25,738.07 L208.50,737.83 L208.75,737.59 L209.00,737.36 L209.25,737.12 L209.50,736.88 L209.75,736.64 L210.00,736.40 L210.25,736.16 L210.50,735.92 L210.75,735.68 L211.00,735.44 L211.25,735.21 L211.50,734.97 L211.66,734.81 M221.88,724.98 L222.00,724.85 L222.25,724.61 L222.50,724.37 L222.75,724.12 L223.00,723.88 L223.25,723.63 L223.50,723.39 L223.75,723.14 L224.00,722.90 L224.25,722.65 L224.50,722.41 L224.75,722.16 L225.00,721.92 L225.25,721.67 L225.50,721.43 L225.75,721.18 L226.00,720.94 L226.25,720.69 L226.50,720.45 L226.75,720.20 L227.00,719.95 L227.25,719.71 L227.50,719.46 L227.75,719.22 L228.00,718.97 L228.25,718.72 L228.50,718.48 L228.75,718.23 L229.00,717.98 L229.25,717.74 L229.50,717.49 L229.75,717.25 L230.00,717.00 L230.25,716.75 L230.50,716.51 L230.75,716.26 L231.00,716.01 L231.15,715.87 M240.96,706.14 L241.00,706.10 L241.25,705.85 L241.50,705.60 L241.75,705.35 L242.00,705.09 L242.25,704.84 L242.50,704.59 L242.75,704.34 L243.00,704.09 L243.25,703.84 L243.50,703.58 L243.75,703.33 L244.00,703.08 L244.25,702.83 L244.50,702.57 L244.75,702.32 L245.00,702.07 L245.25,701.82 L245.50,701.56 L245.75,701.31 L246.00,701.06 L246.25,700.80 L246.50,700.55 L246.75,700.30 L247.00,700.04 L247.25,699.79 L247.50,699.54 L247.75,699.28 L248.00,699.03 L248.25,698.78 L248.50,698.52 L248.75,698.27 L249.00,698.01 L249.25,697.76 L249.50,697.51 L249.75,697.25 L250.00,697.00 L250.10,696.90 M260.01,686.79 L260.25,686.55 L260.50,686.29 L260.75,686.04 L261.00,685.78 L261.25,685.53 L261.50,685.27 L261.75,685.02 L262.00,684.76 L262.25,684.51 L262.50,684.25 L262.75,684.00 L263.00,683.75 L263.25,683.49 L263.50,683.24 L263.75,682.98 L264.00,682.73 L264.25,682.48 L264.50,682.22 L264.75,681.97 L265.00,681.71 L265.25,681.46 L265.50,681.20 L265.75,680.95 L266.00,680.69 L266.25,680.44 L266.50,680.18 L266.75,679.93 L267.00,679.67 L267.25,679.42 L267.50,679.16 L267.75,678.91 L268.00,678.65 L268.25,678.40 L268.50,678.14 L268.75,677.88 L269.00,677.63 L269.11,677.52 M277.84,668.45 L278.00,668.28 L278.25,668.02 L278.50,667.76 L278.75,667.50 L279.00,667.24 L279.25,666.98 L279.50,666.72 L279.75,666.46 L280.00,666.20 L280.25,665.94 L280.50,665.68 L280.75,665.42 L281.00,665.16 L281.25,664.90 L281.50,664.64 L281.75,664.38 L282.00,664.12 L282.25,663.86 L282.50,663.60 L282.75,663.34 L283.00,663.08 L283.25,662.82 L283.50,662.56 L283.75,662.30 L284.00,662.04 L284.25,661.78 L284.50,661.52 L284.75,661.26 L285.00,661.00 L285.25,660.74 L285.50,660.48 L285.75,660.22 L286.00,659.96 L286.25,659.70 L286.50,659.44 L286.75,659.18 L286.85,659.08 M297.69,647.81 L297.75,647.75 L298.00,647.49 L298.25,647.23 L298.50,646.97 L298.75,646.70 L299.00,646.44 L299.25,646.18 L299.50,645.92 L299.75,645.66 L300.00,645.40 L300.25,645.14 L300.50,644.88 L300.75,644.62 L301.00,644.35 L301.25,644.09 L301.50,643.83 L301.75,643.57 L302.00,643.31 L302.25,643.04 L302.50,642.78 L302.75,642.52 L303.00,642.26 L303.25,641.99 L303.50,641.73 L303.75,641.47 L304.00,641.21 L304.25,640.94 L304.50,640.68 L304.75,640.42 L305.00,640.16 L305.25,639.89 L305.50,639.63 L305.75,639.37 L306.00,639.10 L306.25,638.84 L306.50,638.58 L306.66,638.41 M316.33,628.25 L316.50,628.07 L316.75,627.81 L317.00,627.54 L317.25,627.28 L317.50,627.02 L317.75,626.76 L318.00,626.49 L318.25,626.23 L318.50,625.97 L318.75,625.71 L319.00,625.45 L319.25,625.18 L319.50,624.92 L319.75,624.66 L320.00,624.40 L320.25,624.14 L320.50,623.88 L320.75,623.62 L321.00,623.36 L321.25,623.10 L321.50,622.83 L321.75,622.57 L322.00,622.31 L322.25,622.05 L322.50,621.79 L322.75,621.53 L323.00,621.27 L323.25,621.01 L323.50,620.75 L323.75,620.49 L324.00,620.23 L324.25,619.97 L324.50,619.71 L324.75,619.45 L325.00,619.19 L325.25,618.93 L325.32,618.86 M334.02,609.82 L334.25,609.58 L334.50,609.32 L334.75,609.06 L335.00,608.80 L335.25,608.54 L335.50,608.28 L335.75,608.02 L336.00,607.76 L336.25,607.50 L336.50,607.24 L336.75,606.98 L337.00,606.72 L337.25,606.46 L337.50,606.20 L337.75,605.94 L338.00,605.68 L338.25,605.42 L338.50,605.16 L338.75,604.90 L339.00,604.64 L339.25,604.38 L339.50,604.12 L339.75,603.86 L340.00,603.60 L340.25,603.34 L340.50,603.08 L340.75,602.82 L341.00,602.56 L341.25,602.30 L341.50,602.04 L341.75,601.78 L342.00,601.52 L342.25,601.26 L342.50,601.00 L342.75,600.74 L343.00,600.48 L343.02,600.45 M353.84,589.24 L354.00,589.07 L354.25,588.81 L354.50,588.55 L354.75,588.30 L355.00,588.04 L355.25,587.78 L355.50,587.52 L355.75,587.27 L356.00,587.01 L356.25,586.75 L356.50,586.49 L356.75,586.24 L357.00,585.98 L357.25,585.72 L357.50,585.47 L357.75,585.21 L358.00,584.95 L358.25,584.70 L358.50,584.44 L358.75,584.18 L359.00,583.93 L359.25,583.67 L359.50,583.41 L359.75,583.16 L360.00,582.90 L360.25,582.64 L360.50,582.39 L360.75,582.13 L361.00,581.88 L361.25,581.62 L361.50,581.36 L361.75,581.11 L362.00,580.85 L362.25,580.60 L362.50,580.34 L362.75,580.09 L362.91,579.92 M372.19,570.48 L372.25,570.42 L372.50,570.17 L372.75,569.91 L373.00,569.66 L373.25,569.41 L373.50,569.15 L373.75,568.90 L374.00,568.65 L374.25,568.40 L374.50,568.14 L374.75,567.89 L375.00,567.64 L375.25,567.39 L375.50,567.13 L375.75,566.88 L376.00,566.63 L376.25,566.38 L376.50,566.12 L376.75,565.87 L377.00,565.62 L377.25,565.37 L377.50,565.12 L377.75,564.86 L378.00,564.61 L378.25,564.36 L378.50,564.11 L378.75,563.86 L379.00,563.61 L379.25,563.35 L379.50,563.10 L379.75,562.85 L380.00,562.60 L380.25,562.35 L380.50,562.10 L380.75,561.85 L381.00,561.60 L381.25,561.34 L381.34,561.25 M391.22,551.40 L391.25,551.36 L391.50,551.12 L391.75,550.87 L392.00,550.63 L392.25,550.38 L392.50,550.13 L392.75,549.89 L393.00,549.64 L393.25,549.40 L393.50,549.15 L393.75,548.91 L394.00,548.66 L394.25,548.42 L394.50,548.17 L394.75,547.93 L395.00,547.68 L395.25,547.44 L395.50,547.19 L395.75,546.95 L396.00,546.70 L396.25,546.46 L396.50,546.21 L396.75,545.97 L397.00,545.73 L397.25,545.48 L397.50,545.24 L397.75,544.99 L398.00,544.75 L398.25,544.51 L398.50,544.26 L398.75,544.02 L399.00,543.78 L399.25,543.53 L399.50,543.29 L399.75,543.04 L400.00,542.80 L400.25,542.56 L400.50,542.31 L400.51,542.30 M411.02,532.11 L411.25,531.89 L411.50,531.64 L411.75,531.40 L412.00,531.16 L412.25,530.91 L412.50,530.67 L412.75,530.42 L413.00,530.18 L413.25,529.94 L413.50,529.69 L413.75,529.45 L414.00,529.21 L414.25,528.96 L414.50,528.72 L414.75,528.47 L415.00,528.23 L415.25,527.99 L415.50,527.74 L415.75,527.50 L416.00,527.26 L416.25,527.02 L416.50,526.77 L416.75,526.53 L417.00,526.29 L417.25,526.05 L417.50,525.80 L417.75,525.56 L418.00,525.32 L418.25,525.08 L418.50,524.84 L418.75,524.60 L419.00,524.36 L419.25,524.12 L419.50,523.88 L419.75,523.64 L420.00,523.40 L420.25,523.16 L420.35,523.06 M430.41,513.61 L430.50,513.53 L430.75,513.29 L431.00,513.06 L431.25,512.82 L431.50,512.59 L431.75,512.35 L432.00,512.12 L432.25,511.88 L432.50,511.65 L432.75,511.41 L433.00,511.17 L433.25,510.94 L433.50,510.70 L433.75,510.47 L434.00,510.23 L434.25,509.99 L434.50,509.76 L434.75,509.52 L435.00,509.29 L435.25,509.05 L435.50,508.82 L435.75,508.58 L436.00,508.35 L436.25,508.11 L436.50,507.88 L436.75,507.64 L437.00,507.41 L437.25,507.17 L437.50,506.94 L437.75,506.70 L438.00,506.47 L438.25,506.23 L438.50,506.00 L438.75,505.77 L439.00,505.53 L439.25,505.30 L439.50,505.07 L439.75,504.83 L439.89,504.71 M450.30,495.13 L450.50,494.95 L450.75,494.72 L451.00,494.49 L451.25,494.26 L451.50,494.04 L451.75,493.81 L452.00,493.59 L452.25,493.36 L452.50,493.13 L452.75,492.91 L453.00,492.68 L453.25,492.46 L453.50,492.23 L453.75,492.01 L454.00,491.78 L454.25,491.56 L454.50,491.33 L454.75,491.11 L455.00,490.88 L455.25,490.66 L455.50,490.43 L455.75,490.21 L456.00,489.98 L456.25,489.76 L456.50,489.53 L456.75,489.31 L457.00,489.09 L457.25,488.86 L457.50,488.64 L457.75,488.41 L458.00,488.19 L458.25,487.97 L458.50,487.74 L458.75,487.52 L459.00,487.30 L459.25,487.07 L459.50,486.85 L459.75,486.62 L459.96,486.43 M470.33,477.21 L470.50,477.06 L470.75,476.84 L471.00,476.62 L471.25,476.39 L471.50,476.17 L471.75,475.95 L472.00,475.73 L472.25,475.51 L472.50,475.29 L472.75,475.07 L473.00,474.85 L473.25,474.63 L473.50,474.40 L473.75,474.18 L474.00,473.96 L474.25,473.74 L474.50,473.52 L474.75,473.30 L475.00,473.08 L475.25,472.86 L475.50,472.64 L475.75,472.42 L476.00,472.20 L476.25,471.98 L476.50,471.76 L476.75,471.54 L477.00,471.32 L477.25,471.10 L477.50,470.88 L477.75,470.66 L478.00,470.45 L478.25,470.23 L478.50,470.01 L478.75,469.79 L479.00,469.57 L479.25,469.35 L479.50,469.14 L479.75,468.92 L480.00,468.70 L480.09,468.62 M490.81,459.41 L491.00,459.25 L491.25,459.03 L491.50,458.82 L491.75,458.60 L492.00,458.39 L492.25,458.18 L492.50,457.96 L492.75,457.75 L493.00,457.54 L493.25,457.32 L493.50,457.11 L493.75,456.90 L494.00,456.68 L494.25,456.47 L494.50,456.26 L494.75,456.04 L495.00,455.83 L495.25,455.62 L495.50,455.41 L495.75,455.19 L496.00,454.98 L496.25,454.77 L496.50,454.56 L496.75,454.34 L497.00,454.13 L497.25,453.92 L497.50,453.71 L497.75,453.50 L498.00,453.29 L498.25,453.07 L498.50,452.86 L498.75,452.65 L499.00,452.44 L499.25,452.23 L499.50,452.02 L499.75,451.81 L500.00,451.60 L500.25,451.39 L500.50,451.18 L500.72,450.99 M511.11,442.38 L511.25,442.27 L511.50,442.06 L511.75,441.86 L512.00,441.65 L512.25,441.44 L512.50,441.24 L512.75,441.03 L513.00,440.83 L513.25,440.62 L513.50,440.41 L513.75,440.21 L514.00,440.00 L514.25,439.80 L514.50,439.59 L514.75,439.39 L515.00,439.18 L515.25,438.98 L515.50,438.77 L515.75,438.57 L516.00,438.36 L516.25,438.16 L516.50,437.95 L516.75,437.75 L517.00,437.54 L517.25,437.34 L517.50,437.13 L517.75,436.93 L518.00,436.73 L518.25,436.52 L518.50,436.32 L518.75,436.11 L519.00,435.91 L519.25,435.71 L519.50,435.51 L519.75,435.30 L520.00,435.10 L520.25,434.90 L520.50,434.70 L520.75,434.49 L521.00,434.29 L521.18,434.15 M532.35,425.25 L532.50,425.13 L532.75,424.94 L533.00,424.74 L533.25,424.55 L533.50,424.35 L533.75,424.16 L534.00,423.96 L534.25,423.77 L534.50,423.57 L534.75,423.38 L535.00,423.18 L535.25,422.99 L535.50,422.79 L535.75,422.60 L536.00,422.40 L536.25,422.21 L536.50,422.01 L536.75,421.82 L537.00,421.63 L537.25,421.43 L537.50,421.24 L537.75,421.04 L538.00,420.85 L538.25,420.66 L538.50,420.46 L538.75,420.27 L539.00,420.08 L539.25,419.88 L539.50,419.69 L539.75,419.49 L540.00,419.30 L540.25,419.11 L540.50,418.91 L540.75,418.72 L541.00,418.53 L541.25,418.33 L541.50,418.14 L541.75,417.94 L542.00,417.75 L542.25,417.56 L542.50,417.36 L542.61,417.27 M554.03,408.55 L554.25,408.39 L554.50,408.20 L554.75,408.01 L555.00,407.83 L555.25,407.64 L555.50,407.45 L555.75,407.26 L556.00,407.08 L556.25,406.89 L556.50,406.70 L556.75,406.52 L557.00,406.33 L557.25,406.14 L557.50,405.96 L557.75,405.77 L558.00,405.58 L558.25,405.40 L558.50,405.21 L558.75,405.03 L559.00,404.84 L559.25,404.66 L559.50,404.47 L559.75,404.29 L560.00,404.10 L560.25,403.92 L560.50,403.73 L560.75,403.55 L561.00,403.36 L561.25,403.18 L561.50,402.99 L561.75,402.81 L562.00,402.63 L562.25,402.44 L562.50,402.26 L562.75,402.08 L563.00,401.89 L563.25,401.71 L563.50,401.53 L563.75,401.34 L564.00,401.16 L564.25,400.98 L564.48,400.81 M575.56,392.78 L575.75,392.64 L576.00,392.46 L576.25,392.28 L576.50,392.10 L576.75,391.92 L577.00,391.74 L577.25,391.56 L577.50,391.38 L577.75,391.20 L578.00,391.03 L578.25,390.85 L578.50,390.67 L578.75,390.49 L579.00,390.31 L579.25,390.13 L579.50,389.96 L579.75,389.78 L580.00,389.60 L580.25,389.42 L580.50,389.25 L580.75,389.07 L581.00,388.89 L581.25,388.71 L581.50,388.54 L581.75,388.36 L582.00,388.18 L582.25,388.01 L582.50,387.83 L582.75,387.66 L583.00,387.48 L583.25,387.30 L583.50,387.13 L583.75,386.95 L584.00,386.78 L584.25,386.60 L584.50,386.43 L584.75,386.25 L585.00,386.07 L585.25,385.90 L585.50,385.73 L585.75,385.55 L586.00,385.38 L586.17,385.26 M596.98,377.83 L597.00,377.82 L597.25,377.65 L597.50,377.48 L597.75,377.31 L598.00,377.14 L598.25,376.98 L598.50,376.81 L598.75,376.64 L599.00,376.47 L599.25,376.30 L599.50,376.14 L599.75,375.97 L600.00,375.80 L600.25,375.63 L600.50,375.47 L600.75,375.30 L601.00,375.13 L601.25,374.96 L601.50,374.80 L601.75,374.63 L602.00,374.46 L602.25,374.30 L602.50,374.13 L602.75,373.97 L603.00,373.80 L603.25,373.63 L603.50,373.47 L603.75,373.30 L604.00,373.14 L604.25,372.97 L604.50,372.81 L604.75,372.64 L605.00,372.47 L605.25,372.31 L605.50,372.15 L605.75,371.98 L606.00,371.82 L606.25,371.65 L606.50,371.49 L606.75,371.32 L607.00,371.16 L607.25,371.00 L607.50,370.83 L607.75,370.67 L607.80,370.63 M618.74,363.60 L618.75,363.59 L619.00,363.44 L619.25,363.28 L619.50,363.12 L619.75,362.96 L620.00,362.80 L620.25,362.64 L620.50,362.48 L620.75,362.32 L621.00,362.17 L621.25,362.01 L621.50,361.85 L621.75,361.69 L622.00,361.53 L622.25,361.37 L622.50,361.21 L622.75,361.05 L623.00,360.90 L623.25,360.74 L623.50,360.58 L623.75,360.42 L624.00,360.26 L624.25,360.11 L624.50,359.95 L624.75,359.79 L625.00,359.63 L625.25,359.47 L625.50,359.32 L625.75,359.16 L626.00,359.00 L626.25,358.84 L626.50,358.69 L626.75,358.53 L627.00,358.37 L627.25,358.22 L627.50,358.06 L627.75,357.90 L628.00,357.75 L628.25,357.59 L628.50,357.43 L628.75,357.28 L629.00,357.12 L629.25,356.97 L629.50,356.81 L629.74,356.66 M643.72,348.15 L643.75,348.13 L644.00,347.98 L644.25,347.83 L644.50,347.68 L644.75,347.53 L645.00,347.38 L645.25,347.23 L645.50,347.08 L645.75,346.93 L646.00,346.78 L646.25,346.63 L646.50,346.48 L646.75,346.33 L647.00,346.18 L647.25,346.03 L647.50,345.88 L647.75,345.73 L648.00,345.59 L648.25,345.44 L648.50,345.29 L648.75,345.14 L649.00,344.99 L649.25,344.84 L649.50,344.70 L649.75,344.55 L650.00,344.40 L650.25,344.25 L650.50,344.11 L650.75,343.96 L651.00,343.81 L651.25,343.66 L651.50,343.52 L651.75,343.37 L652.00,343.23 L652.25,343.08 L652.50,342.93 L652.75,342.79 L653.00,342.64 L653.25,342.50 L653.50,342.35 L653.75,342.21 L654.00,342.06 L654.25,341.92 L654.50,341.77 L654.75,341.63 L654.91,341.54 M667.10,334.54 L667.25,334.46 L667.50,334.32 L667.75,334.17 L668.00,334.03 L668.25,333.89 L668.50,333.75 L668.75,333.61 L669.00,333.47 L669.25,333.32 L669.50,333.18 L669.75,333.04 L670.00,332.90 L670.25,332.76 L670.50,332.62 L670.75,332.48 L671.00,332.34 L671.25,332.19 L671.50,332.05 L671.75,331.91 L672.00,331.77 L672.25,331.63 L672.50,331.49 L672.75,331.35 L673.00,331.21 L673.25,331.07 L673.50,330.92 L673.75,330.78 L674.00,330.64 L674.25,330.50 L674.50,330.36 L674.75,330.22 L675.00,330.08 L675.25,329.94 L675.50,329.80 L675.75,329.66 L676.00,329.52 L676.25,329.38 L676.50,329.24 L676.75,329.10 L677.00,328.96 L677.25,328.82 L677.50,328.68 L677.75,328.54 L678.00,328.41 L678.25,328.27 L678.43,328.17 M689.97,321.92 L690.00,321.90 L690.25,321.77 L690.50,321.63 L690.75,321.50 L691.00,321.37 L691.25,321.23 L691.50,321.10 L691.75,320.97 L692.00,320.83 L692.25,320.70 L692.50,320.57 L692.75,320.43 L693.00,320.30 L693.25,320.17 L693.50,320.03 L693.75,319.90 L694.00,319.77 L694.25,319.64 L694.50,319.50 L694.75,319.37 L695.00,319.24 L695.25,319.11 L695.50,318.97 L695.75,318.84 L696.00,318.71 L696.25,318.58 L696.50,318.44 L696.75,318.31 L697.00,318.18 L697.25,318.05 L697.50,317.92 L697.75,317.78 L698.00,317.65 L698.25,317.52 L698.50,317.39 L698.75,317.26 L699.00,317.13 L699.25,316.99 L699.50,316.86 L699.75,316.73 L700.00,316.60 L700.25,316.47 L700.50,316.34 L700.75,316.21 L701.00,316.08 L701.25,315.95 L701.46,315.83 M714.58,309.01 L714.75,308.92 L715.00,308.79 L715.25,308.66 L715.50,308.53 L715.75,308.40 L716.00,308.27 L716.25,308.14 L716.50,308.01 L716.75,307.88 L717.00,307.75 L717.25,307.62 L717.50,307.49 L717.75,307.36 L718.00,307.23 L718.25,307.10 L718.50,306.97 L718.75,306.84 L719.00,306.71 L719.25,306.58 L719.50,306.46 L719.75,306.33 L720.00,306.20 L720.25,306.07 L720.50,305.95 L720.75,305.82 L721.00,305.69 L721.25,305.57 L721.50,305.44 L721.75,305.31 L722.00,305.19 L722.25,305.06 L722.50,304.94 L722.75,304.81 L723.00,304.69 L723.25,304.56 L723.50,304.44 L723.75,304.31 L724.00,304.19 L724.25,304.06 L724.50,303.94 L724.75,303.81 L725.00,303.69 L725.25,303.56 L725.50,303.44 L725.75,303.31 L726.00,303.19 L726.16,303.11 M738.64,296.88 L738.75,296.82 L739.00,296.70 L739.25,296.57 L739.50,296.45 L739.75,296.32 L740.00,296.20 L740.25,296.08 L740.50,295.95 L740.75,295.83 L741.00,295.71 L741.25,295.58 L741.50,295.46 L741.75,295.34 L742.00,295.21 L742.25,295.09 L742.50,294.97 L742.75,294.84 L743.00,294.72 L743.25,294.60 L743.50,294.47 L743.75,294.35 L744.00,294.23 L744.25,294.11 L744.50,293.98 L744.75,293.86 L745.00,293.74 L745.25,293.62 L745.50,293.49 L745.75,293.37 L746.00,293.25 L746.25,293.13 L746.50,293.00 L746.75,292.88 L747.00,292.76 L747.25,292.64 L747.50,292.52 L747.75,292.39 L748.00,292.27 L748.25,292.15 L748.50,292.03 L748.75,291.91 L749.00,291.79 L749.25,291.66 L749.50,291.54 L749.75,291.42 L750.00,291.30 L750.25,291.18 L750.31,291.15 M762.97,285.09 L763.00,285.08 L763.25,284.96 L763.50,284.84 L763.75,284.73 L764.00,284.61 L764.25,284.49 L764.50,284.37 L764.75,284.26 L765.00,284.14 L765.25,284.02 L765.50,283.90 L765.75,283.79 L766.00,283.67 L766.25,283.55 L766.50,283.43 L766.75,283.32 L767.00,283.20 L767.25,283.08 L767.50,282.97 L767.75,282.85 L768.00,282.73 L768.25,282.62 L768.50,282.50 L768.75,282.38 L769.00,282.27 L769.25,282.15 L769.50,282.03 L769.75,281.92 L770.00,281.80 L770.25,281.68 L770.50,281.57 L770.75,281.45 L771.00,281.34 L771.25,281.22 L771.50,281.10 L771.75,280.99 L772.00,280.87 L772.25,280.76 L772.50,280.64 L772.75,280.53 L773.00,280.41 L773.25,280.29 L773.50,280.18 L773.75,280.06 L774.00,279.95 L774.25,279.83 L774.50,279.72 L774.75,279.60 L774.75,279.60 M787.43,273.84 L787.50,273.81 L787.75,273.70 L788.00,273.59 L788.25,273.47 L788.50,273.36 L788.75,273.25 L789.00,273.14 L789.25,273.03 L789.50,272.92 L789.75,272.81 L790.00,272.70 L790.25,272.59 L790.50,272.48 L790.75,272.37 L791.00,272.26 L791.25,272.15 L791.50,272.04 L791.75,271.93 L792.00,271.83 L792.25,271.72 L792.50,271.61 L792.75,271.50 L793.00,271.39 L793.25,271.28 L793.50,271.18 L793.75,271.07 L794.00,270.96 L794.25,270.85 L794.50,270.75 L794.75,270.64 L795.00,270.53 L795.25,270.42 L795.50,270.32 L795.75,270.21 L796.00,270.10 L796.25,270.00 L796.50,269.89 L796.75,269.78 L797.00,269.68 L797.25,269.57 L797.50,269.46 L797.75,269.36 L798.00,269.25 L798.25,269.14 L798.50,269.04 L798.75,268.93 L799.00,268.83 L799.25,268.72 L799.36,268.67 M810.66,263.93 L810.75,263.90 L811.00,263.80 L811.25,263.70 L811.50,263.60 L811.75,263.50 L812.00,263.40 L812.25,263.30 L812.50,263.20 L812.75,263.10 L813.00,263.00 L813.25,262.91 L813.50,262.81 L813.75,262.71 L814.00,262.61 L814.25,262.52 L814.50,262.42 L814.75,262.32 L815.00,262.23 L815.25,262.13 L815.50,262.03 L815.75,261.93 L816.00,261.84 L816.25,261.74 L816.50,261.65 L816.75,261.55 L817.00,261.45 L817.25,261.36 L817.50,261.26 L817.75,261.16 L818.00,261.07 L818.25,260.97 L818.50,260.88 L818.75,260.78 L819.00,260.68 L819.25,260.59 L819.50,260.49 L819.75,260.40 L820.00,260.30 L820.25,260.20 L820.50,260.11 L820.75,260.01 L821.00,259.91 L821.25,259.82 L821.50,259.72 L821.75,259.63 L822.00,259.53 L822.25,259.43 L822.50,259.34 L822.75,259.24 L822.78,259.23 M837.32,253.92 L837.50,253.85 L837.75,253.77 L838.00,253.68 L838.25,253.60 L838.50,253.51 L838.75,253.43 L839.00,253.34 L839.25,253.26 L839.50,253.17 L839.75,253.09 L840.00,253.00 L840.25,252.92 L840.50,252.83 L840.75,252.75 L841.00,252.66 L841.25,252.58 L841.50,252.49 L841.75,252.41 L842.00,252.32 L842.25,252.24 L842.50,252.15 L842.75,252.07 L843.00,251.99 L843.25,251.90 L843.50,251.82 L843.75,251.73 L844.00,251.65 L844.25,251.57 L844.50,251.48 L844.75,251.40 L845.00,251.32 L845.25,251.24 L845.50,251.15 L845.75,251.07 L846.00,250.99 L846.25,250.91 L846.50,250.82 L846.75,250.74 L847.00,250.66 L847.25,250.58 L847.50,250.50 L847.75,250.42 L848.00,250.34 L848.25,250.26 L848.50,250.18 L848.75,250.10 L849.00,250.02 L849.25,249.94 L849.50,249.86 L849.65,249.81 M863.56,245.67 L863.75,245.62 L864.00,245.55 L864.25,245.48 L864.50,245.40 L864.75,245.33 L865.00,245.26 L865.25,245.19 L865.50,245.12 L865.75,245.05 L866.00,244.98 L866.25,244.91 L866.50,244.84 L866.75,244.77 L867.00,244.70 L867.25,244.64 L867.50,244.57 L867.75,244.50 L868.00,244.43 L868.25,244.36 L868.50,244.30 L868.75,244.23 L869.00,244.16 L869.25,244.10 L869.50,244.03 L869.75,243.97 L870.00,243.90 L870.25,243.84 L870.50,243.77 L870.75,243.71 L871.00,243.64 L871.25,243.58 L871.50,243.52 L871.75,243.45 L872.00,243.39 L872.25,243.33 L872.50,243.27 L872.75,243.21 L873.00,243.14 L873.25,243.08 L873.50,243.02 L873.75,242.96 L874.00,242.90 L874.25,242.84 L874.50,242.78 L874.75,242.72 L875.00,242.66 L875.25,242.60 L875.50,242.54 L875.75,242.49 L876.00,242.43 L876.14,242.39 M889.25,239.45 L889.50,239.40 L889.75,239.35 L890.00,239.30 L890.25,239.25 L890.50,239.20 L890.75,239.16 L891.00,239.11 L891.25,239.06 L891.50,239.02 L891.75,238.97 L892.00,238.92 L892.25,238.88 L892.50,238.84 L892.75,238.79 L893.00,238.75 L893.25,238.70 L893.50,238.66 L893.75,238.62 L894.00,238.57 L894.25,238.53 L894.50,238.49 L894.75,238.45 L895.00,238.41 L895.25,238.36 L895.50,238.32 L895.75,238.28 L896.00,238.24 L896.25,238.20 L896.50,238.16 L896.75,238.12 L897.00,238.08 L897.25,238.04 L897.50,238.00 L897.75,237.96 L898.00,237.92 L898.25,237.88 L898.50,237.84 L898.75,237.80 L899.00,237.76 L899.25,237.72 L899.50,237.68 L899.75,237.64 L900.00,237.60 L900.25,237.56 L900.50,237.52 L900.75,237.48 L901.00,237.44 L901.25,237.40 L901.50,237.36 L901.75,237.32 L902.00,237.28 L902.07,237.27 M915.85,235.41 L916.00,235.39 L916.25,235.37 L916.50,235.34 L916.75,235.31 L917.00,235.29 L917.25,235.26 L917.50,235.24 L917.75,235.21 L918.00,235.19 L918.25,235.16 L918.50,235.14 L918.75,235.12 L919.00,235.09 L919.25,235.07 L919.50,235.05 L919.75,235.02 L920.00,235.00 L920.25,234.98 L920.50,234.96 L920.75,234.93 L921.00,234.91 L921.25,234.89 L921.50,234.87 L921.75,234.85 L922.00,234.83 L922.25,234.81 L922.50,234.79 L922.75,234.77 L923.00,234.75 L923.25,234.73 L923.50,234.71 L923.75,234.70 L924.00,234.68 L924.25,234.66 L924.50,234.64 L924.75,234.62 L925.00,234.61 L925.25,234.59 L925.50,234.57 L925.75,234.56 L926.00,234.54 L926.25,234.52 L926.50,234.51 L926.75,234.49 L927.00,234.48 L927.25,234.46 L927.50,234.44 L927.75,234.43 L928.00,234.41 L928.25,234.40 L928.50,234.38 L928.75,234.37 L928.80,234.37 M942.49,233.84 L942.50,233.84 L942.75,233.84 L943.00,233.84 L943.25,233.83 L943.50,233.83 L943.75,233.82 L944.00,233.82 L944.25,233.82 L944.50,233.81 L944.75,233.81 L945.00,233.81 L945.25,233.80 L945.50,233.80 L945.75,233.80 L946.00,233.80 L946.25,233.80 L946.50,233.79 L946.75,233.79 L947.00,233.79 L947.25,233.79 L947.50,233.79 L947.75,233.79 L948.00,233.79 L948.25,233.79 L948.50,233.79 L948.75,233.79 L949.00,233.79 L949.25,233.79 L949.50,233.80 L949.75,233.80 L950.00,233.80 L950.25,233.80 L950.50,233.81 L950.75,233.81 L951.00,233.81 L951.25,233.82 L951.50,233.82 L951.75,233.82 L952.00,233.83 L952.25,233.83 L952.50,233.84 L952.75,233.84 L953.00,233.85 L953.25,233.85 L953.50,233.86 L953.75,233.87 L954.00,233.87 L954.25,233.88 L954.50,233.89 L954.75,233.89 L955.00,233.90 L955.25,233.91 L955.49,233.92 M969.27,234.74 L969.50,234.76 L969.75,234.78 L970.00,234.80 L970.25,234.82 L970.50,234.84 L970.75,234.86 L971.00,234.89 L971.25,234.91 L971.50,234.93 L971.75,234.95 L972.00,234.98 L972.25,235.00 L972.50,235.02 L972.75,235.05 L973.00,235.07 L973.25,235.09 L973.50,235.12 L973.75,235.14 L974.00,235.16 L974.25,235.19 L974.50,235.21 L974.75,235.24 L975.00,235.26 L975.25,235.29 L975.50,235.31 L975.75,235.34 L976.00,235.36 L976.25,235.39 L976.50,235.42 L976.75,235.44 L977.00,235.47 L977.25,235.50 L977.50,235.52 L977.75,235.55 L978.00,235.58 L978.25,235.60 L978.50,235.63 L978.75,235.66 L979.00,235.69 L979.25,235.71 L979.50,235.74 L979.75,235.77 L980.00,235.80 L980.25,235.83 L980.50,235.86 L980.75,235.89 L981.00,235.92 L981.25,235.95 L981.50,235.97 L981.75,236.00 L982.00,236.03 L982.20,236.06 M994.51,237.82 L994.75,237.86 L995.00,237.90 L995.25,237.94 L995.50,237.99 L995.75,238.03 L996.00,238.07 L996.25,238.12 L996.50,238.16 L996.75,238.20 L997.00,238.25 L997.25,238.29 L997.50,238.34 L997.75,238.38 L998.00,238.43 L998.25,238.47 L998.50,238.52 L998.75,238.57 L999.00,238.61 L999.25,238.66 L999.50,238.71 L999.75,238.75 L1000.00,238.80 L1000.25,238.85 L1000.50,238.90 L1000.75,238.94 L1001.00,238.99 L1001.25,239.04 L1001.50,239.09 L1001.75,239.14 L1002.00,239.19 L1002.25,239.24 L1002.50,239.29 L1002.75,239.34 L1003.00,239.39 L1003.25,239.44 L1003.50,239.49 L1003.75,239.55 L1004.00,239.60 L1004.25,239.65 L1004.50,239.70 L1004.75,239.75 L1005.00,239.81 L1005.25,239.86 L1005.50,239.91 L1005.75,239.97 L1006.00,240.02 L1006.25,240.07 L1006.50,240.13 L1006.75,240.18 L1007.00,240.24 L1007.25,240.29 L1007.27,240.29 M1022.99,244.07 L1023.00,244.08 L1023.25,244.14 L1023.50,244.21 L1023.75,244.27 L1024.00,244.34 L1024.25,244.41 L1024.50,244.47 L1024.75,244.54 L1025.00,244.61 L1025.25,244.67 L1025.50,244.74 L1025.75,244.81 L1026.00,244.88 L1026.25,244.95 L1026.50,245.01 L1026.75,245.08 L1027.00,245.15 L1027.25,245.22 L1027.50,245.29 L1027.75,245.36 L1028.00,245.43 L1028.25,245.50 L1028.50,245.57 L1028.75,245.64 L1029.00,245.71 L1029.25,245.78 L1029.50,245.86 L1029.75,245.93 L1030.00,246.00 L1030.25,246.07 L1030.50,246.15 L1030.75,246.22 L1031.00,246.29 L1031.25,246.37 L1031.50,246.44 L1031.75,246.51 L1032.00,246.59 L1032.25,246.66 L1032.50,246.74 L1032.75,246.81 L1033.00,246.89 L1033.25,246.96 L1033.50,247.04 L1033.75,247.12 L1034.00,247.19 L1034.25,247.27 L1034.50,247.35 L1034.75,247.42 L1035.00,247.50 L1035.25,247.58 L1035.49,247.65 M1048.28,251.98 L1048.50,252.05 L1048.75,252.15 L1049.00,252.24 L1049.25,252.33 L1049.50,252.42 L1049.75,252.51 L1050.00,252.60 L1050.25,252.69 L1050.50,252.78 L1050.75,252.87 L1051.00,252.97 L1051.25,253.06 L1051.50,253.15 L1051.75,253.24 L1052.00,253.34 L1052.25,253.43 L1052.50,253.52 L1052.75,253.62 L1053.00,253.71 L1053.25,253.80 L1053.50,253.90 L1053.75,253.99 L1054.00,254.08 L1054.25,254.18 L1054.50,254.27 L1054.75,254.37 L1055.00,254.46 L1055.25,254.56 L1055.50,254.65 L1055.75,254.75 L1056.00,254.84 L1056.25,254.94 L1056.50,255.04 L1056.75,255.13 L1057.00,255.23 L1057.25,255.33 L1057.50,255.42 L1057.75,255.52 L1058.00,255.62 L1058.25,255.71 L1058.50,255.81 L1058.75,255.91 L1059.00,256.01 L1059.25,256.10 L1059.50,256.20 L1059.75,256.30 L1060.00,256.40 L1060.25,256.50 L1060.44,256.57 M1073.63,262.09 L1073.75,262.14 L1074.00,262.25 L1074.25,262.36 L1074.50,262.48 L1074.75,262.59 L1075.00,262.70 L1075.25,262.81 L1075.50,262.93 L1075.75,263.04 L1076.00,263.15 L1076.25,263.27 L1076.50,263.38 L1076.75,263.49 L1077.00,263.61 L1077.25,263.72 L1077.50,263.84 L1077.75,263.95 L1078.00,264.07 L1078.25,264.18 L1078.50,264.30 L1078.75,264.42 L1079.00,264.53 L1079.25,264.65 L1079.50,264.77 L1079.75,264.88 L1080.00,265.00 L1080.25,265.12 L1080.50,265.24 L1080.75,265.35 L1081.00,265.47 L1081.25,265.59 L1081.50,265.71 L1081.75,265.83 L1082.00,265.95 L1082.25,266.07 L1082.50,266.19 L1082.75,266.31 L1083.00,266.43 L1083.25,266.55 L1083.50,266.67 L1083.75,266.80 L1084.00,266.92 L1084.25,267.04 L1084.50,267.16 L1084.75,267.28 L1085.00,267.41 L1085.25,267.53 L1085.40,267.60 M1098.26,274.17 L1098.50,274.30 L1098.75,274.43 L1099.00,274.56 L1099.25,274.70 L1099.50,274.83 L1099.75,274.97 L1100.00,275.10 L1100.25,275.24 L1100.50,275.37 L1100.75,275.51 L1101.00,275.64 L1101.25,275.78 L1101.50,275.92 L1101.75,276.05 L1102.00,276.19 L1102.25,276.33 L1102.50,276.46 L1102.75,276.60 L1103.00,276.74 L1103.25,276.88 L1103.50,277.02 L1103.75,277.16 L1104.00,277.30 L1104.25,277.44 L1104.50,277.58 L1104.75,277.72 L1105.00,277.86 L1105.25,278.00 L1105.50,278.14 L1105.75,278.28 L1106.00,278.42 L1106.25,278.56 L1106.50,278.70 L1106.75,278.84 L1107.00,278.99 L1107.25,279.13 L1107.50,279.27 L1107.75,279.41 L1108.00,279.55 L1108.25,279.70 L1108.50,279.84 L1108.75,279.98 L1109.00,280.13 L1109.25,280.27 L1109.50,280.41 L1109.62,280.48 M1121.17,287.31 L1121.25,287.36 L1121.50,287.51 L1121.75,287.66 L1122.00,287.81 L1122.25,287.97 L1122.50,288.12 L1122.75,288.27 L1123.00,288.43 L1123.25,288.58 L1123.50,288.73 L1123.75,288.89 L1124.00,289.04 L1124.25,289.19 L1124.50,289.35 L1124.75,289.50 L1125.00,289.66 L1125.25,289.81 L1125.50,289.97 L1125.75,290.12 L1126.00,290.28 L1126.25,290.43 L1126.50,290.59 L1126.75,290.74 L1127.00,290.90 L1127.25,291.06 L1127.50,291.21 L1127.75,291.37 L1128.00,291.53 L1128.25,291.69 L1128.50,291.85 L1128.75,292.00 L1129.00,292.16 L1129.25,292.32 L1129.50,292.48 L1129.75,292.64 L1130.00,292.80 L1130.25,292.96 L1130.50,293.12 L1130.75,293.28 L1131.00,293.44 L1131.25,293.60 L1131.50,293.76 L1131.75,293.93 L1132.00,294.09 L1132.18,294.21 M1143.93,302.11 L1144.00,302.16 L1144.25,302.33 L1144.50,302.51 L1144.75,302.68 L1145.00,302.86 L1145.25,303.03 L1145.50,303.21 L1145.75,303.38 L1146.00,303.56 L1146.25,303.74 L1146.50,303.91 L1146.75,304.09 L1147.00,304.27 L1147.25,304.44 L1147.50,304.62 L1147.75,304.80 L1148.00,304.97 L1148.25,305.15 L1148.50,305.33 L1148.75,305.51 L1149.00,305.69 L1149.25,305.86 L1149.50,306.04 L1149.75,306.22 L1150.00,306.40 L1150.25,306.58 L1150.50,306.76 L1150.76,306.94 L1151.01,307.12 L1151.26,307.31 L1151.52,307.49 L1151.78,307.67 L1152.03,307.86 L1152.29,308.05 L1152.55,308.23 L1152.80,308.42 L1153.06,308.61 L1153.32,308.79 L1153.58,308.98 L1153.84,309.17 L1154.10,309.36 L1154.35,309.54 L1154.52,309.66 M1165.73,318.18 L1165.75,318.19 L1165.94,318.34 L1166.14,318.48 L1166.34,318.63 L1166.54,318.78 L1166.74,318.92 L1166.94,319.07 L1167.15,319.22 L1167.36,319.36 L1167.57,319.51 L1167.78,319.65 L1168.00,319.80 L1168.22,319.95 L1168.44,320.09 L1168.66,320.23 L1168.89,320.37 L1169.11,320.51 L1169.34,320.64 L1169.56,320.78 L1169.79,320.91 L1170.02,321.05 L1170.25,321.18 L1170.48,321.31 L1170.71,321.44 L1170.94,321.57 L1171.18,321.70 L1171.41,321.83 L1171.65,321.96 L1171.89,322.09 L1172.12,322.22 L1172.36,322.35 L1172.60,322.48 L1172.84,322.61 L1173.08,322.74 L1173.32,322.88 L1173.56,323.01 L1173.81,323.15 L1174.05,323.28 L1174.29,323.42 L1174.54,323.56 L1174.78,323.70 L1175.03,323.84 L1175.27,323.99 L1175.52,324.13 L1175.76,324.28 L1176.01,324.43 L1176.26,324.59 L1176.51,324.75 L1176.75,324.90 L1176.82,324.95 M1188.44,333.94 L1188.63,334.13 L1188.88,334.38 L1189.13,334.64 L1189.37,334.90 L1189.62,335.16 L1189.86,335.42 L1190.11,335.69 L1190.36,335.96 L1190.60,336.23 L1190.85,336.50 L1191.09,336.78 L1191.33,337.06 L1191.57,337.34 L1191.82,337.62 L1192.06,337.90 L1192.30,338.18 L1192.53,338.47 L1192.77,338.76 L1193.00,339.04 L1193.24,339.33 L1193.47,339.62 L1193.70,339.91 L1193.92,340.20 L1194.15,340.49 L1194.37,340.78 L1194.59,341.07 L1194.81,341.36 L1195.02,341.65 L1195.23,341.94 L1195.44,342.23 L1195.65,342.52 L1195.85,342.81 L1196.05,343.09 L1196.25,343.38 L1196.44,343.66 L1196.63,343.94 L1196.66,343.98 M1202.77,356.50 L1202.78,356.52 L1202.95,356.84 L1203.12,357.15 L1203.30,357.47 L1203.47,357.80 L1203.65,358.12 L1203.83,358.45 L1204.01,358.78 L1204.20,359.11 L1204.38,359.44 L1204.57,359.78 L1204.76,360.11 L1204.95,360.45 L1205.14,360.79 L1205.33,361.13 L1205.52,361.46 L1205.71,361.80 L1205.91,362.14 L1206.10,362.48 L1206.29,362.82 L1206.48,363.16 L1206.67,363.50 L1206.86,363.84 L1207.05,364.18 L1207.24,364.51 L1207.43,364.85 L1207.61,365.18 L1207.80,365.51 L1207.98,365.84 L1208.16,366.17 L1208.34,366.50 L1208.51,366.82 L1208.68,367.14 L1208.85,367.46 L1209.02,367.77 L1209.07,367.87 M1214.82,380.13 L1214.85,380.19 L1215.00,380.48 L1215.15,380.76 L1215.31,381.05 L1215.46,381.34 L1215.62,381.63 L1215.78,381.91 L1215.95,382.20 L1216.11,382.49 L1216.28,382.78 L1216.45,383.07 L1216.61,383.36 L1216.78,383.65 L1216.95,383.94 L1217.13,384.23 L1217.30,384.52 L1217.47,384.81 L1217.64,385.10 L1217.81,385.39 L1217.99,385.69 L1218.16,385.98 L1218.33,386.27 L1218.50,386.57 L1218.67,386.86 L1218.84,387.16 L1219.01,387.46 L1219.18,387.75 L1219.35,388.05 L1219.51,388.35 L1219.68,388.65 L1219.84,388.95 L1220.00,389.25 L1220.16,389.56 L1220.32,389.86 L1220.47,390.16 L1220.62,390.47 L1220.77,390.77 L1220.92,391.08 L1221.06,391.39 L1221.11,391.50 M1225.81,404.72 L1225.94,405.01 L1226.09,405.32 L1226.24,405.62 L1226.40,405.93 L1226.55,406.23 L1226.72,406.53 L1226.88,406.83 L1227.05,407.13 L1227.22,407.43 L1227.40,407.72 L1227.57,408.02 L1227.75,408.31 L1227.93,408.61 L1228.11,408.90 L1228.29,409.19 L1228.47,409.48 L1228.66,409.77 L1228.84,410.06 L1229.02,410.35 L1229.21,410.64 L1229.39,410.93 L1229.57,411.22 L1229.75,411.51 L1229.93,411.80 L1230.11,412.09 L1230.28,412.38 L1230.46,412.67 L1230.63,412.96 L1230.80,413.25 L1230.96,413.54 L1231.13,413.83 L1231.28,414.13 L1231.44,414.42 L1231.59,414.71 L1231.74,415.01 L1231.88,415.31 L1232.02,415.60 L1232.15,415.90 L1232.20,416.02 M1235.96,430.10 L1236.14,430.42 L1236.33,430.76 L1236.52,431.09 L1236.73,431.42 L1236.93,431.76 L1237.15,432.10 L1237.37,432.44 L1237.59,432.78 L1237.82,433.12 L1238.05,433.47 L1238.29,433.81 L1238.52,434.15 L1238.77,434.49 L1239.01,434.84 L1239.25,435.18 L1239.50,435.52 L1239.75,435.86 L1240.00,436.20 L1240.24,436.54 L1240.49,436.87 L1240.74,437.21 L1240.98,437.54 L1241.23,437.87 L1241.47,438.20 L1241.71,438.53 L1241.95,438.85 L1242.19,439.17 L1242.42,439.49 L1242.65,439.81 L1242.87,440.12 L1243.09,440.42 L1243.30,440.73 L1243.34,440.79 M1251.22,452.81 L1251.32,452.93 L1251.56,453.22 L1251.81,453.53 L1252.06,453.83 L1252.32,454.14 L1252.58,454.45 L1252.84,454.76 L1253.11,455.08 L1253.38,455.39 L1253.66,455.71 L1253.93,456.03 L1254.21,456.36 L1254.49,456.68 L1254.78,457.00 L1255.06,457.33 L1255.34,457.65 L1255.63,457.97 L1255.91,458.30 L1256.20,458.62 L1256.48,458.94 L1256.77,459.27 L1257.05,459.59 L1257.33,459.91 L1257.61,460.22 L1257.89,460.54 L1258.16,460.85 L1258.43,461.16 L1258.70,461.47 L1258.97,461.77 L1259.23,462.08 L1259.49,462.37 L1259.72,462.64 M1268.96,473.87 L1268.97,473.88 L1269.21,474.12 L1269.45,474.36 L1269.70,474.60 L1269.95,474.84 L1270.20,475.08 L1270.46,475.32 L1270.72,475.56 L1270.98,475.80 L1271.24,476.04 L1271.51,476.28 L1271.78,476.52 L1272.05,476.76 L1272.32,477.00 L1272.59,477.24 L1272.87,477.48 L1273.14,477.72 L1273.42,477.96 L1273.69,478.20 L1273.97,478.44 L1274.25,478.68 L1274.52,478.92 L1274.80,479.16 L1275.08,479.40 L1275.35,479.64 L1275.62,479.88 L1275.90,480.12 L1276.17,480.36 L1276.44,480.60 L1276.71,480.84 L1276.97,481.08 L1277.24,481.32 L1277.50,481.56 L1277.76,481.80 L1278.01,482.04 L1278.26,482.28 L1278.51,482.52 L1278.59,482.60 M1288.16,493.06 L1288.19,493.08 L1288.43,493.32 L1288.68,493.56 L1288.94,493.80 L1289.19,494.04 L1289.45,494.28 L1289.71,494.52 L1289.97,494.76 L1290.24,495.00 L1290.50,495.24 L1290.77,495.48 L1291.04,495.72 L1291.31,495.96 L1291.58,496.20 L1291.85,496.44 L1292.12,496.68 L1292.40,496.92 L1292.67,497.16 L1292.94,497.40 L1293.22,497.64 L1293.49,497.88 L1293.76,498.12 L1294.04,498.36 L1294.31,498.60 L1294.58,498.84 L1294.85,499.08 L1295.12,499.32 L1295.39,499.56 L1295.65,499.80 L1295.92,500.04 L1296.18,500.28 L1296.44,500.52 L1296.70,500.76 L1296.96,501.00 L1297.21,501.24 L1297.46,501.48 L1297.71,501.72 L1297.79,501.80 M1307.23,512.01 L1307.24,512.03 L1307.49,512.25 L1307.73,512.48 L1307.98,512.70 L1308.23,512.92 L1308.49,513.14 L1308.74,513.36 L1309.00,513.58 L1309.26,513.80 L1309.52,514.01 L1309.79,514.23 L1310.05,514.44 L1310.32,514.66 L1310.59,514.87 L1310.85,515.08 L1311.12,515.30 L1311.39,515.51 L1311.66,515.72 L1311.93,515.93 L1312.20,516.14 L1312.47,516.36 L1312.74,516.57 L1313.01,516.78 L1313.28,516.99 L1313.55,517.20 L1313.81,517.42 L1314.08,517.63 L1314.35,517.84 L1314.61,518.06 L1314.88,518.28 L1315.14,518.49 L1315.40,518.71 L1315.66,518.93 L1315.91,519.15 L1316.17,519.37 L1316.42,519.59 L1316.67,519.82 L1316.91,520.04 L1317.16,520.27 L1317.22,520.33 M1326.49,530.47 L1326.69,530.66 L1326.94,530.88 L1327.19,531.11 L1327.44,531.33 L1327.69,531.55 L1327.95,531.77 L1328.21,531.99 L1328.47,532.21 L1328.73,532.42 L1328.99,532.64 L1329.25,532.86 L1329.52,533.07 L1329.79,533.28 L1330.05,533.50 L1330.32,533.71 L1330.59,533.92 L1330.86,534.13 L1331.13,534.34 L1331.40,534.56 L1331.67,534.77 L1331.94,534.98 L1332.21,535.19 L1332.48,535.40 L1332.75,535.62 L1333.02,535.83 L1333.29,536.04 L1333.56,536.26 L1333.83,536.47 L1334.10,536.69 L1334.36,536.90 L1334.63,537.12 L1334.89,537.34 L1335.16,537.56 L1335.42,537.78 L1335.68,538.00 L1335.94,538.22 L1336.19,538.45 L1336.45,538.67 L1336.52,538.73 M1346.56,548.74 L1346.81,548.98 L1347.06,549.22 L1347.32,549.46 L1347.58,549.71 L1347.84,549.95 L1348.11,550.19 L1348.37,550.44 L1348.64,550.68 L1348.90,550.92 L1349.17,551.17 L1349.44,551.41 L1349.71,551.66 L1349.98,551.90 L1350.25,552.14 L1350.52,552.39 L1350.79,552.63 L1351.06,552.88 L1351.34,553.12 L1351.61,553.36 L1351.88,553.61 L1352.15,553.85 L1352.42,554.09 L1352.69,554.33 L1352.95,554.57 L1353.22,554.81 L1353.49,555.05 L1353.75,555.29 L1354.02,555.53 L1354.28,555.77 L1354.54,556.01 L1354.80,556.24 L1355.06,556.48 L1355.31,556.71 L1355.57,556.95 L1355.82,557.18 L1356.07,557.41 L1356.16,557.50 M1366.35,567.44 L1366.40,567.49 L1366.58,567.63 L1366.75,567.78 L1366.92,567.92 L1367.09,568.06 L1367.26,568.19 L1367.43,568.33 L1367.60,568.46 L1367.76,568.58 L1367.92,568.71 L1368.08,568.83 L1368.24,568.95 L1368.40,569.07 L1368.56,569.19 L1368.71,569.30 L1368.86,569.41 L1369.01,569.52 L1369.16,569.63 L1369.31,569.74 L1369.45,569.84 L1369.60,569.95 L1369.74,570.05 L1369.88,570.15 L1370.01,570.25 L1370.15,570.35 L1370.28,570.45 L1370.41,570.55 L1370.54,570.64 L1370.67,570.74 L1370.79,570.84 L1370.92,570.93 L1371.04,571.02 L1371.16,571.12 L1371.27,571.21 L1371.39,571.31 L1371.50,571.40 L1371.61,571.49 L1371.72,571.58 L1371.82,571.67 L1371.92,571.75 L1372.03,571.84 L1372.12,571.92 L1372.22,572.00 L1372.31,572.07 L1372.40,572.15 L1372.49,572.22 L1372.58,572.29 L1372.66,572.36 L1372.75,572.43 L1372.83,572.50 L1372.91,572.57 L1372.98,572.63 L1373.06,572.70 L1373.13,572.76 L1373.20,572.82 L1373.27,572.89 L1373.34,572.95 L1373.41,573.01 L1373.48,573.07 L1373.54,573.14 L1373.60,573.20 L1373.66,573.26 L1373.72,573.32 L1373.78,573.38 L1373.84,573.45 L1373.90,573.51 L1373.95,573.57 L1374.00,573.64 L1374.06,573.70 L1374.11,573.77 L1374.16,573.84 L1374.21,573.91 L1374.26,573.98 L1374.31,574.05 L1374.35,574.12 L1374.40,574.20 L1374.45,574.27 L1374.49,574.34 L1374.53,574.40 L1374.57,574.45 L1374.61,574.50 L1374.64,574.54 L1374.68,574.58 L1374.71,574.62 L1374.74,574.65 L1374.77,574.68 L1374.79,574.71 L1374.82,574.74 L1374.84,574.76 L1374.87,574.79 L1374.89,574.82 L1374.91,574.85 L1374.93,574.88 L1374.95,574.92 L1374.96,574.95 L1374.98,574.99 L1375.00,575.04 L1375.01,575.09 L1375.03,575.14 L1375.04,575.21 L1375.05,575.27 L1375.06,575.35 L1375.07,575.43 L1375.08,575.52 L1375.10,575.62 L1375.11,575.74 L1375.12,575.86 L1375.12,575.99 L1375.13,576.13 L1375.14,576.28 L1375.15,576.44 M1375.2,591.3 L1375.2,594.1" stroke="#ffc000" stroke-width="7" stroke-linecap="round" stroke-linejoin="round" fill="none"/>
</g>
<rect x="156.5" y="14.4" width="1216" height="111.4" fill="#fff" stroke="#7f7f7f" stroke-width="3" stroke-linejoin="round"/>
<g fill="none" stroke-linecap="round">
<line x1="202.2" y1="41.5" x2="317" y2="41.5" stroke="#5b9bd5" stroke-width="7"/>
<line x1="810.3" y1="41.3" x2="921.4" y2="41.3" stroke="#ed7d31" stroke-width="7" stroke-dasharray="46.7 27.7"/>
<line x1="200.7" y1="97" x2="302" y2="97" stroke="#7030a0" stroke-width="10" stroke-dasharray="0 20.25"/>
<line x1="810.3" y1="99" x2="921.4" y2="99" stroke="#ffc000" stroke-width="7" stroke-dasharray="13 14"/>
</g>
<g font-size="34.2"><text transform="translate(329.82,0) scale(0.918,1)" x="0" y="52.60">G</text><text transform="translate(357.27,0) scale(0.854,1)" x="0" y="52.60">Z</text><text transform="translate(374.40,0) scale(0.974,1)" x="0" y="52.60">_</text><text transform="translate(394.20,0) scale(0.850,1)" x="0" y="52.60">s</text><text transform="translate(411.68,0) scale(1.100,1)" x="0" y="52.60">t</text><text transform="translate(425.11,0) scale(0.935,1)" x="0" y="52.60">i</text><text transform="translate(435.14,0) scale(0.935,1)" x="0" y="52.60">l</text><text transform="translate(441.89,0) scale(0.935,1)" x="0" y="52.60">l</text><text transform="translate(451.83,0) scale(0.935,1)" x="0" y="52.60">-</text><text transform="translate(465.16,0) scale(0.935,1)" x="0" y="52.60">I</text><text transform="translate(475.39,0) scale(1.019,1)" x="0" y="52.60">n</text><text transform="translate(495.88,0) scale(1.100,1)" x="0" y="52.60">t</text><text transform="translate(508.95,0) scale(0.850,1)" x="0" y="52.60">a</text><text transform="translate(529.29,0) scale(0.902,1)" x="0" y="52.60">c</text><text transform="translate(546.68,0) scale(1.100,1)" x="0" y="52.60">t</text></g>
<g font-size="34.2"><text transform="translate(936.72,0) scale(0.918,1)" x="0" y="52.60">G</text><text transform="translate(964.17,0) scale(0.854,1)" x="0" y="52.60">Z</text><text transform="translate(981.30,0) scale(0.974,1)" x="0" y="52.60">_</text><text transform="translate(1001.10,0) scale(0.850,1)" x="0" y="52.60">s</text><text transform="translate(1018.58,0) scale(1.100,1)" x="0" y="52.60">t</text><text transform="translate(1032.01,0) scale(0.935,1)" x="0" y="52.60">i</text><text transform="translate(1042.04,0) scale(0.935,1)" x="0" y="52.60">l</text><text transform="translate(1048.79,0) scale(0.935,1)" x="0" y="52.60">l</text><text transform="translate(1058.73,0) scale(0.935,1)" x="0" y="52.60">-</text><text transform="translate(1072.64,0) scale(0.926,1)" x="0" y="52.60">A</text><text transform="translate(1096.53,0) scale(1.100,1)" x="0" y="52.60">f</text><text transform="translate(1107.38,0) scale(1.100,1)" x="0" y="52.60">t</text><text transform="translate(1129.78,0) scale(1.060,1)" x="0" y="52.60">d</text><text transform="translate(1149.65,0) scale(0.850,1)" x="0" y="52.60">a</text><text transform="translate(1170.33,0) scale(1.089,1)" x="0" y="52.60">m</text><text transform="translate(1203.95,0) scale(0.850,1)" x="0" y="52.60">a</text><text transform="translate(1222.04,0) scale(1.014,1)" x="0" y="52.60">g</text><text transform="translate(1241.50,0) scale(0.966,1)" x="0" y="52.60">e</text><text transform="translate(1261.52,0) scale(1.034,1)" x="0" y="52.60">d</text></g>
<g font-size="34.2"><text transform="translate(329.82,0) scale(0.918,1)" x="0" y="109.30">G</text><text transform="translate(357.27,0) scale(0.854,1)" x="0" y="109.30">Z</text><text transform="translate(374.40,0) scale(0.974,1)" x="0" y="109.30">_</text><text transform="translate(394.20,0) scale(0.850,1)" x="0" y="109.30">s</text><text transform="translate(411.68,0) scale(1.100,1)" x="0" y="109.30">t</text><text transform="translate(425.11,0) scale(0.935,1)" x="0" y="109.30">i</text><text transform="translate(435.14,0) scale(0.935,1)" x="0" y="109.30">l</text><text transform="translate(441.89,0) scale(0.935,1)" x="0" y="109.30">l</text><text transform="translate(451.83,0) scale(0.935,1)" x="0" y="109.30">-</text><text transform="translate(466.13,0) scale(1.100,1)" x="0" y="109.30">M</text><text transform="translate(499.66,0) scale(0.935,1)" x="0" y="109.30">i</text><text transform="translate(509.00,0) scale(1.047,1)" x="0" y="109.30">d</text><text transform="translate(529.42,0) scale(1.034,1)" x="0" y="109.30">d</text><text transform="translate(550.04,0) scale(0.935,1)" x="0" y="109.30">l</text><text transform="translate(559.79,0) scale(0.972,1)" x="0" y="109.30">e</text><text transform="translate(590.08,0) scale(1.060,1)" x="0" y="109.30">d</text><text transform="translate(609.95,0) scale(0.850,1)" x="0" y="109.30">a</text><text transform="translate(630.63,0) scale(1.089,1)" x="0" y="109.30">m</text><text transform="translate(664.25,0) scale(0.850,1)" x="0" y="109.30">a</text><text transform="translate(682.34,0) scale(1.014,1)" x="0" y="109.30">g</text><text transform="translate(701.80,0) scale(0.966,1)" x="0" y="109.30">e</text><text transform="translate(721.82,0) scale(1.034,1)" x="0" y="109.30">d</text></g>
<g font-size="34.2"><text transform="translate(936.72,0) scale(0.918,1)" x="0" y="109.30">G</text><text transform="translate(964.17,0) scale(0.854,1)" x="0" y="109.30">Z</text><text transform="translate(981.30,0) scale(0.974,1)" x="0" y="109.30">_</text><text transform="translate(1001.10,0) scale(0.850,1)" x="0" y="109.30">s</text><text transform="translate(1018.58,0) scale(1.100,1)" x="0" y="109.30">t</text><text transform="translate(1032.01,0) scale(0.935,1)" x="0" y="109.30">i</text><text transform="translate(1042.04,0) scale(0.935,1)" x="0" y="109.30">l</text><text transform="translate(1048.79,0) scale(0.935,1)" x="0" y="109.30">l</text><text transform="translate(1058.73,0) scale(0.935,1)" x="0" y="109.30">-</text><text transform="translate(1072.11,0) scale(0.850,1)" x="0" y="109.30">F</text><text transform="translate(1089.18,0) scale(1.059,1)" x="0" y="109.30">o</text><text transform="translate(1113.10,0) scale(1.100,1)" x="0" y="109.30">r</text><text transform="translate(1126.49,0) scale(0.972,1)" x="0" y="109.30">e</text><text transform="translate(1156.68,0) scale(1.060,1)" x="0" y="109.30">d</text><text transform="translate(1176.55,0) scale(0.850,1)" x="0" y="109.30">a</text><text transform="translate(1197.23,0) scale(1.089,1)" x="0" y="109.30">m</text><text transform="translate(1230.85,0) scale(0.850,1)" x="0" y="109.30">a</text><text transform="translate(1248.94,0) scale(1.014,1)" x="0" y="109.30">g</text><text transform="translate(1268.40,0) scale(0.966,1)" x="0" y="109.30">e</text><text transform="translate(1288.42,0) scale(1.034,1)" x="0" y="109.30">d</text></g>
<text x="104.84" y="792.00" font-size="34.2" textLength="19.39" lengthAdjust="spacingAndGlyphs">0</text>
<text x="73.20" y="709.39" font-size="34.2" textLength="51.52" lengthAdjust="spacingAndGlyphs">0.2</text>
<text x="73.17" y="626.78" font-size="34.2" textLength="50.88" lengthAdjust="spacingAndGlyphs">0.4</text>
<text x="73.17" y="545.17" font-size="34.2" textLength="51.39" lengthAdjust="spacingAndGlyphs">0.6</text>
<text x="73.62" y="462.56" font-size="34.2" textLength="51.22" lengthAdjust="spacingAndGlyphs">0.8</text>
<text x="104.99" y="379.95" font-size="34.2" textLength="19.31" lengthAdjust="spacingAndGlyphs">1</text>
<text x="75.01" y="298.34" font-size="34.2" textLength="49.28" lengthAdjust="spacingAndGlyphs">1.2</text>
<text x="74.39" y="215.73" font-size="34.2" textLength="49.39" lengthAdjust="spacingAndGlyphs">1.4</text>
<text x="74.52" y="134.12" font-size="34.2" textLength="49.89" lengthAdjust="spacingAndGlyphs">1.6</text>
<text x="152.24" y="841.10" font-size="34.2" textLength="21.28" lengthAdjust="spacingAndGlyphs">0</text>
<text x="276.47" y="841.10" font-size="34.2" textLength="41.62" lengthAdjust="spacingAndGlyphs">10</text>
<text x="412.02" y="841.10" font-size="34.2" textLength="40.06" lengthAdjust="spacingAndGlyphs">20</text>
<text x="546.34" y="841.10" font-size="34.2" textLength="40.78" lengthAdjust="spacingAndGlyphs">30</text>
<text x="681.42" y="841.10" font-size="34.2" textLength="40.18" lengthAdjust="spacingAndGlyphs">40</text>
<text x="815.59" y="841.10" font-size="34.2" textLength="40.92" lengthAdjust="spacingAndGlyphs">50</text>
<text x="950.98" y="841.10" font-size="34.2" textLength="40.66" lengthAdjust="spacingAndGlyphs">60</text>
<text x="1086.00" y="841.10" font-size="34.2" textLength="40.22" lengthAdjust="spacingAndGlyphs">70</text>
<text x="1220.11" y="841.10" font-size="34.2" textLength="41.50" lengthAdjust="spacingAndGlyphs">80</text>
<text x="1355.39" y="841.10" font-size="34.2" textLength="40.12" lengthAdjust="spacingAndGlyphs">90</text>
<g font-size="38.5"><text transform="translate(624.18,0) scale(0.893,1)" x="0" y="889.58">H</text><text transform="translate(650.78,0) scale(0.930,1)" x="0" y="889.58">e</text><text transform="translate(671.59,0) scale(0.924,1)" x="0" y="889.58">e</text><text transform="translate(691.83,0) scale(0.927,1)" x="0" y="889.58">l</text><text transform="translate(705.49,0) scale(0.927,1)" x="0" y="889.58">i</text><text transform="translate(718.97,0) scale(0.991,1)" x="0" y="889.58">n</text><text transform="translate(741.68,0) scale(0.999,1)" x="0" y="889.58">g</text><text transform="translate(763.26,0) scale(0.927,1)" x="0" y="889.58">[</text><text transform="translate(775.78,0) scale(0.999,1)" x="0" y="889.58">d</text><text transform="translate(800.43,0) scale(0.897,1)" x="0" y="889.58">e</text><text transform="translate(819.43,0) scale(0.970,1)" x="0" y="889.58">g</text><text transform="translate(840.80,0) scale(1.018,1)" x="0" y="889.58">r</text><text transform="translate(856.79,0) scale(0.924,1)" x="0" y="889.58">e</text><text transform="translate(877.48,0) scale(0.930,1)" x="0" y="889.58">e</text><text transform="translate(898.07,0) scale(0.927,1)" x="0" y="889.58">]</text></g>
<text transform="translate(48.3,509.3) rotate(-90) scale(0.93,1)" font-size="38.5" y="0"><tspan font-style="italic" x="-1.87 24.80">GZ</tspan><tspan x="61.44 75.25 109.80">[m]</tspan></text>
</svg>
</body></html>
